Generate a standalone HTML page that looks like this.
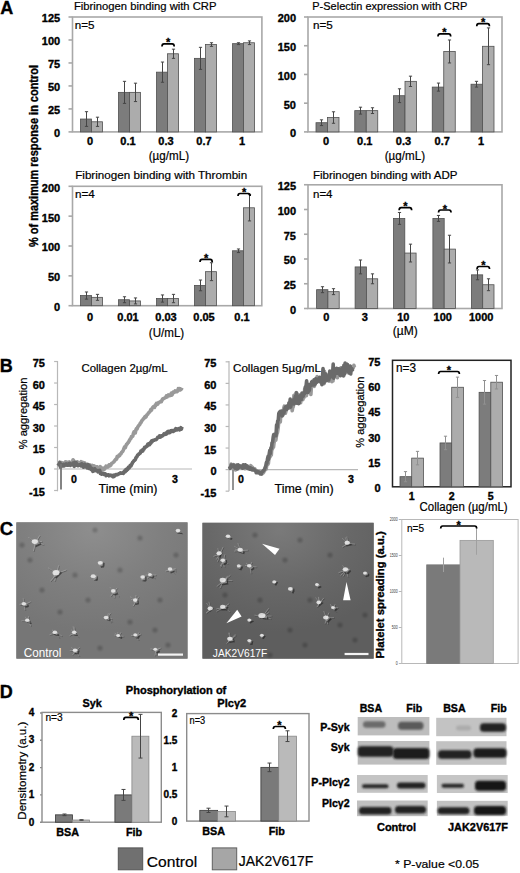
<!DOCTYPE html>
<html><head><meta charset="utf-8"><style>
html,body{margin:0;padding:0;background:#fff;width:520px;height:873px;overflow:hidden}
svg{display:block;font-family:"Liberation Sans", sans-serif}
</style></head><body>
<svg width="520" height="873" viewBox="0 0 520 873">
<rect width="520" height="873" fill="#fff"/>
<text x="0.30" y="13.89" font-size="18" font-weight="bold" fill="#000" text-anchor="start" stroke="#000" stroke-width="0.35" >A</text>
<rect x="72.50" y="17.00" width="189.40" height="114.90" fill="none" stroke="#a8a8a8" stroke-width="1.6"/>
<line x1="68.50" y1="131.90" x2="72.50" y2="131.90" stroke="#a8a8a8" stroke-width="1.6"/>
<line x1="68.50" y1="108.92" x2="72.50" y2="108.92" stroke="#a8a8a8" stroke-width="1.6"/>
<line x1="68.50" y1="85.94" x2="72.50" y2="85.94" stroke="#a8a8a8" stroke-width="1.6"/>
<line x1="68.50" y1="62.96" x2="72.50" y2="62.96" stroke="#a8a8a8" stroke-width="1.6"/>
<line x1="68.50" y1="39.98" x2="72.50" y2="39.98" stroke="#a8a8a8" stroke-width="1.6"/>
<line x1="68.50" y1="17.00" x2="72.50" y2="17.00" stroke="#a8a8a8" stroke-width="1.6"/>
<rect x="80.50" y="119.03" width="11.00" height="12.87" fill="#7c7c7c" stroke="#505050" stroke-width="0.8"/>
<rect x="91.50" y="121.79" width="11.00" height="10.11" fill="#acacac" stroke="#505050" stroke-width="0.8"/>
<rect x="118.50" y="92.37" width="11.00" height="39.53" fill="#7c7c7c" stroke="#505050" stroke-width="0.8"/>
<rect x="129.50" y="92.37" width="11.00" height="39.53" fill="#acacac" stroke="#505050" stroke-width="0.8"/>
<rect x="156.50" y="72.15" width="11.00" height="59.75" fill="#7c7c7c" stroke="#505050" stroke-width="0.8"/>
<rect x="167.50" y="53.77" width="11.00" height="78.13" fill="#acacac" stroke="#505050" stroke-width="0.8"/>
<rect x="194.50" y="58.36" width="11.00" height="73.54" fill="#7c7c7c" stroke="#505050" stroke-width="0.8"/>
<rect x="205.50" y="44.58" width="11.00" height="87.32" fill="#acacac" stroke="#505050" stroke-width="0.8"/>
<rect x="232.50" y="43.66" width="11.00" height="88.24" fill="#7c7c7c" stroke="#505050" stroke-width="0.8"/>
<rect x="243.50" y="42.74" width="11.00" height="89.16" fill="#acacac" stroke="#505050" stroke-width="0.8"/>
<line x1="86.50" y1="111.68" x2="86.50" y2="126.38" stroke="#454545" stroke-width="1"/>
<line x1="84.90" y1="111.68" x2="88.10" y2="111.68" stroke="#454545" stroke-width="1"/>
<line x1="84.90" y1="126.38" x2="88.10" y2="126.38" stroke="#454545" stroke-width="1"/>
<line x1="97.50" y1="117.19" x2="97.50" y2="126.38" stroke="#454545" stroke-width="1"/>
<line x1="95.90" y1="117.19" x2="99.10" y2="117.19" stroke="#454545" stroke-width="1"/>
<line x1="95.90" y1="126.38" x2="99.10" y2="126.38" stroke="#454545" stroke-width="1"/>
<line x1="124.50" y1="81.34" x2="124.50" y2="103.40" stroke="#454545" stroke-width="1"/>
<line x1="122.90" y1="81.34" x2="126.10" y2="81.34" stroke="#454545" stroke-width="1"/>
<line x1="122.90" y1="103.40" x2="126.10" y2="103.40" stroke="#454545" stroke-width="1"/>
<line x1="135.50" y1="83.18" x2="135.50" y2="101.57" stroke="#454545" stroke-width="1"/>
<line x1="133.90" y1="83.18" x2="137.10" y2="83.18" stroke="#454545" stroke-width="1"/>
<line x1="133.90" y1="101.57" x2="137.10" y2="101.57" stroke="#454545" stroke-width="1"/>
<line x1="162.50" y1="62.04" x2="162.50" y2="82.26" stroke="#454545" stroke-width="1"/>
<line x1="160.90" y1="62.04" x2="164.10" y2="62.04" stroke="#454545" stroke-width="1"/>
<line x1="160.90" y1="82.26" x2="164.10" y2="82.26" stroke="#454545" stroke-width="1"/>
<line x1="173.50" y1="49.17" x2="173.50" y2="58.36" stroke="#454545" stroke-width="1"/>
<line x1="171.90" y1="49.17" x2="175.10" y2="49.17" stroke="#454545" stroke-width="1"/>
<line x1="171.90" y1="58.36" x2="175.10" y2="58.36" stroke="#454545" stroke-width="1"/>
<line x1="200.50" y1="47.33" x2="200.50" y2="69.39" stroke="#454545" stroke-width="1"/>
<line x1="198.90" y1="47.33" x2="202.10" y2="47.33" stroke="#454545" stroke-width="1"/>
<line x1="198.90" y1="69.39" x2="202.10" y2="69.39" stroke="#454545" stroke-width="1"/>
<line x1="211.50" y1="42.74" x2="211.50" y2="46.41" stroke="#454545" stroke-width="1"/>
<line x1="209.90" y1="42.74" x2="213.10" y2="42.74" stroke="#454545" stroke-width="1"/>
<line x1="209.90" y1="46.41" x2="213.10" y2="46.41" stroke="#454545" stroke-width="1"/>
<line x1="238.50" y1="42.74" x2="238.50" y2="44.58" stroke="#454545" stroke-width="1"/>
<line x1="236.90" y1="42.74" x2="240.10" y2="42.74" stroke="#454545" stroke-width="1"/>
<line x1="236.90" y1="44.58" x2="240.10" y2="44.58" stroke="#454545" stroke-width="1"/>
<line x1="249.50" y1="40.90" x2="249.50" y2="44.58" stroke="#454545" stroke-width="1"/>
<line x1="247.90" y1="40.90" x2="251.10" y2="40.90" stroke="#454545" stroke-width="1"/>
<line x1="247.90" y1="44.58" x2="251.10" y2="44.58" stroke="#454545" stroke-width="1"/>
<path d="M162.00,46.40 Q162.00,43.80 164.00,43.80 L172.20,43.80 Q174.20,43.80 174.20,46.40" fill="none" stroke="#000" stroke-width="1.7"/>
<text x="168.10" y="46.36" font-size="11" font-weight="bold" fill="#000" text-anchor="middle" stroke="#000" stroke-width="0.35" >*</text>
<text x="74.00" y="10.20" font-size="10.8" font-weight="normal" fill="#000" text-anchor="start" stroke="#000" stroke-width="0.2" textLength="142.5" lengthAdjust="spacingAndGlyphs" >Fibrinogen binding with CRP</text>
<text x="74.80" y="28.54" font-size="11" font-weight="normal" fill="#000" text-anchor="start" stroke="#000" stroke-width="0.2" textLength="19.8" lengthAdjust="spacingAndGlyphs" >n=5</text>
<text x="60.20" y="137.44" font-size="11" font-weight="bold" fill="#000" text-anchor="end" stroke="#000" stroke-width="0.35" >0</text>
<text x="60.20" y="114.44" font-size="11" font-weight="bold" fill="#000" text-anchor="end" stroke="#000" stroke-width="0.35" >25</text>
<text x="60.20" y="91.44" font-size="11" font-weight="bold" fill="#000" text-anchor="end" stroke="#000" stroke-width="0.35" >50</text>
<text x="60.20" y="68.44" font-size="11" font-weight="bold" fill="#000" text-anchor="end" stroke="#000" stroke-width="0.35" >75</text>
<text x="60.20" y="45.44" font-size="11" font-weight="bold" fill="#000" text-anchor="end" stroke="#000" stroke-width="0.35" >100</text>
<text x="60.20" y="22.44" font-size="11" font-weight="bold" fill="#000" text-anchor="end" stroke="#000" stroke-width="0.35" >125</text>
<text x="90.00" y="145.24" font-size="11" font-weight="bold" fill="#000" text-anchor="middle" stroke="#000" stroke-width="0.35" >0</text>
<text x="128.00" y="145.24" font-size="11" font-weight="bold" fill="#000" text-anchor="middle" stroke="#000" stroke-width="0.35" >0.1</text>
<text x="166.00" y="145.24" font-size="11" font-weight="bold" fill="#000" text-anchor="middle" stroke="#000" stroke-width="0.35" >0.3</text>
<text x="204.00" y="145.24" font-size="11" font-weight="bold" fill="#000" text-anchor="middle" stroke="#000" stroke-width="0.35" >0.7</text>
<text x="242.00" y="145.24" font-size="11" font-weight="bold" fill="#000" text-anchor="middle" stroke="#000" stroke-width="0.35" >1</text>
<text x="168.90" y="159.50" font-size="12" font-weight="normal" fill="#000" text-anchor="middle" stroke="#000" stroke-width="0.2" textLength="40.3" lengthAdjust="spacingAndGlyphs" >(µg/mL)</text>
<rect x="308.00" y="17.00" width="194.00" height="114.90" fill="none" stroke="#a8a8a8" stroke-width="1.6"/>
<line x1="304.00" y1="131.90" x2="308.00" y2="131.90" stroke="#a8a8a8" stroke-width="1.6"/>
<line x1="304.00" y1="103.18" x2="308.00" y2="103.18" stroke="#a8a8a8" stroke-width="1.6"/>
<line x1="304.00" y1="74.45" x2="308.00" y2="74.45" stroke="#a8a8a8" stroke-width="1.6"/>
<line x1="304.00" y1="45.73" x2="308.00" y2="45.73" stroke="#a8a8a8" stroke-width="1.6"/>
<line x1="304.00" y1="17.00" x2="308.00" y2="17.00" stroke="#a8a8a8" stroke-width="1.6"/>
<rect x="316.00" y="122.71" width="11.50" height="9.19" fill="#7c7c7c" stroke="#505050" stroke-width="0.8"/>
<rect x="327.50" y="117.54" width="11.50" height="14.36" fill="#acacac" stroke="#505050" stroke-width="0.8"/>
<rect x="354.75" y="110.64" width="11.50" height="21.26" fill="#7c7c7c" stroke="#505050" stroke-width="0.8"/>
<rect x="366.25" y="110.64" width="11.50" height="21.26" fill="#acacac" stroke="#505050" stroke-width="0.8"/>
<rect x="393.50" y="95.71" width="11.50" height="36.19" fill="#7c7c7c" stroke="#505050" stroke-width="0.8"/>
<rect x="405.00" y="81.34" width="11.50" height="50.56" fill="#acacac" stroke="#505050" stroke-width="0.8"/>
<rect x="432.25" y="87.09" width="11.50" height="44.81" fill="#7c7c7c" stroke="#505050" stroke-width="0.8"/>
<rect x="443.75" y="51.47" width="11.50" height="80.43" fill="#acacac" stroke="#505050" stroke-width="0.8"/>
<rect x="471.00" y="84.22" width="11.50" height="47.68" fill="#7c7c7c" stroke="#505050" stroke-width="0.8"/>
<rect x="482.50" y="46.30" width="11.50" height="85.60" fill="#acacac" stroke="#505050" stroke-width="0.8"/>
<line x1="321.50" y1="119.84" x2="321.50" y2="125.58" stroke="#454545" stroke-width="1"/>
<line x1="319.90" y1="119.84" x2="323.10" y2="119.84" stroke="#454545" stroke-width="1"/>
<line x1="319.90" y1="125.58" x2="323.10" y2="125.58" stroke="#454545" stroke-width="1"/>
<line x1="333.50" y1="111.79" x2="333.50" y2="123.28" stroke="#454545" stroke-width="1"/>
<line x1="331.90" y1="111.79" x2="335.10" y2="111.79" stroke="#454545" stroke-width="1"/>
<line x1="331.90" y1="123.28" x2="335.10" y2="123.28" stroke="#454545" stroke-width="1"/>
<line x1="360.50" y1="107.20" x2="360.50" y2="114.09" stroke="#454545" stroke-width="1"/>
<line x1="358.90" y1="107.20" x2="362.10" y2="107.20" stroke="#454545" stroke-width="1"/>
<line x1="358.90" y1="114.09" x2="362.10" y2="114.09" stroke="#454545" stroke-width="1"/>
<line x1="372.50" y1="107.77" x2="372.50" y2="113.52" stroke="#454545" stroke-width="1"/>
<line x1="370.90" y1="107.77" x2="374.10" y2="107.77" stroke="#454545" stroke-width="1"/>
<line x1="370.90" y1="113.52" x2="374.10" y2="113.52" stroke="#454545" stroke-width="1"/>
<line x1="399.50" y1="88.81" x2="399.50" y2="102.60" stroke="#454545" stroke-width="1"/>
<line x1="397.90" y1="88.81" x2="401.10" y2="88.81" stroke="#454545" stroke-width="1"/>
<line x1="397.90" y1="102.60" x2="401.10" y2="102.60" stroke="#454545" stroke-width="1"/>
<line x1="410.50" y1="76.17" x2="410.50" y2="86.51" stroke="#454545" stroke-width="1"/>
<line x1="408.90" y1="76.17" x2="412.10" y2="76.17" stroke="#454545" stroke-width="1"/>
<line x1="408.90" y1="86.51" x2="412.10" y2="86.51" stroke="#454545" stroke-width="1"/>
<line x1="438.50" y1="83.07" x2="438.50" y2="91.11" stroke="#454545" stroke-width="1"/>
<line x1="436.90" y1="83.07" x2="440.10" y2="83.07" stroke="#454545" stroke-width="1"/>
<line x1="436.90" y1="91.11" x2="440.10" y2="91.11" stroke="#454545" stroke-width="1"/>
<line x1="449.50" y1="39.98" x2="449.50" y2="62.96" stroke="#454545" stroke-width="1"/>
<line x1="447.90" y1="39.98" x2="451.10" y2="39.98" stroke="#454545" stroke-width="1"/>
<line x1="447.90" y1="62.96" x2="451.10" y2="62.96" stroke="#454545" stroke-width="1"/>
<line x1="476.50" y1="81.34" x2="476.50" y2="87.09" stroke="#454545" stroke-width="1"/>
<line x1="474.90" y1="81.34" x2="478.10" y2="81.34" stroke="#454545" stroke-width="1"/>
<line x1="474.90" y1="87.09" x2="478.10" y2="87.09" stroke="#454545" stroke-width="1"/>
<line x1="488.50" y1="27.92" x2="488.50" y2="64.68" stroke="#454545" stroke-width="1"/>
<line x1="486.90" y1="27.92" x2="490.10" y2="27.92" stroke="#454545" stroke-width="1"/>
<line x1="486.90" y1="64.68" x2="490.10" y2="64.68" stroke="#454545" stroke-width="1"/>
<path d="M438.00,36.40 Q438.00,33.80 440.00,33.80 L448.70,33.80 Q450.70,33.80 450.70,36.40" fill="none" stroke="#000" stroke-width="1.7"/>
<text x="444.35" y="36.36" font-size="11" font-weight="bold" fill="#000" text-anchor="middle" stroke="#000" stroke-width="0.35" >*</text>
<path d="M476.75,26.30 Q476.75,23.70 478.75,23.70 L487.45,23.70 Q489.45,23.70 489.45,26.30" fill="none" stroke="#000" stroke-width="1.7"/>
<text x="483.10" y="26.26" font-size="11" font-weight="bold" fill="#000" text-anchor="middle" stroke="#000" stroke-width="0.35" >*</text>
<text x="312.30" y="10.20" font-size="10.8" font-weight="normal" fill="#000" text-anchor="start" stroke="#000" stroke-width="0.2" textLength="155" lengthAdjust="spacingAndGlyphs" >P-Selectin expression with CRP</text>
<text x="313.00" y="28.54" font-size="11" font-weight="normal" fill="#000" text-anchor="start" stroke="#000" stroke-width="0.2" textLength="19.8" lengthAdjust="spacingAndGlyphs" >n=5</text>
<text x="296.00" y="137.44" font-size="11" font-weight="bold" fill="#000" text-anchor="end" stroke="#000" stroke-width="0.35" >0</text>
<text x="296.00" y="108.69" font-size="11" font-weight="bold" fill="#000" text-anchor="end" stroke="#000" stroke-width="0.35" >50</text>
<text x="296.00" y="79.94" font-size="11" font-weight="bold" fill="#000" text-anchor="end" stroke="#000" stroke-width="0.35" >100</text>
<text x="296.00" y="51.19" font-size="11" font-weight="bold" fill="#000" text-anchor="end" stroke="#000" stroke-width="0.35" >150</text>
<text x="296.00" y="22.44" font-size="11" font-weight="bold" fill="#000" text-anchor="end" stroke="#000" stroke-width="0.35" >200</text>
<text x="326.00" y="145.24" font-size="11" font-weight="bold" fill="#000" text-anchor="middle" stroke="#000" stroke-width="0.35" >0</text>
<text x="364.75" y="145.24" font-size="11" font-weight="bold" fill="#000" text-anchor="middle" stroke="#000" stroke-width="0.35" >0.1</text>
<text x="403.50" y="145.24" font-size="11" font-weight="bold" fill="#000" text-anchor="middle" stroke="#000" stroke-width="0.35" >0.3</text>
<text x="442.25" y="145.24" font-size="11" font-weight="bold" fill="#000" text-anchor="middle" stroke="#000" stroke-width="0.35" >0.7</text>
<text x="481.00" y="145.24" font-size="11" font-weight="bold" fill="#000" text-anchor="middle" stroke="#000" stroke-width="0.35" >1</text>
<text x="404.90" y="159.50" font-size="12" font-weight="normal" fill="#000" text-anchor="middle" stroke="#000" stroke-width="0.2" textLength="40.3" lengthAdjust="spacingAndGlyphs" >(µg/mL)</text>
<rect x="72.50" y="186.30" width="189.30" height="119.40" fill="none" stroke="#a8a8a8" stroke-width="1.6"/>
<line x1="68.50" y1="305.70" x2="72.50" y2="305.70" stroke="#a8a8a8" stroke-width="1.6"/>
<line x1="68.50" y1="275.85" x2="72.50" y2="275.85" stroke="#a8a8a8" stroke-width="1.6"/>
<line x1="68.50" y1="246.00" x2="72.50" y2="246.00" stroke="#a8a8a8" stroke-width="1.6"/>
<line x1="68.50" y1="216.15" x2="72.50" y2="216.15" stroke="#a8a8a8" stroke-width="1.6"/>
<line x1="68.50" y1="186.30" x2="72.50" y2="186.30" stroke="#a8a8a8" stroke-width="1.6"/>
<rect x="80.50" y="295.55" width="11.00" height="10.15" fill="#7c7c7c" stroke="#505050" stroke-width="0.8"/>
<rect x="91.50" y="297.34" width="11.00" height="8.36" fill="#acacac" stroke="#505050" stroke-width="0.8"/>
<rect x="118.50" y="299.73" width="11.00" height="5.97" fill="#7c7c7c" stroke="#505050" stroke-width="0.8"/>
<rect x="129.50" y="300.92" width="11.00" height="4.78" fill="#acacac" stroke="#505050" stroke-width="0.8"/>
<rect x="156.50" y="298.54" width="11.00" height="7.16" fill="#7c7c7c" stroke="#505050" stroke-width="0.8"/>
<rect x="167.50" y="298.54" width="11.00" height="7.16" fill="#acacac" stroke="#505050" stroke-width="0.8"/>
<rect x="194.50" y="285.40" width="11.00" height="20.30" fill="#7c7c7c" stroke="#505050" stroke-width="0.8"/>
<rect x="205.50" y="271.67" width="11.00" height="34.03" fill="#acacac" stroke="#505050" stroke-width="0.8"/>
<rect x="232.50" y="250.78" width="11.00" height="54.92" fill="#7c7c7c" stroke="#505050" stroke-width="0.8"/>
<rect x="243.50" y="207.79" width="11.00" height="97.91" fill="#acacac" stroke="#505050" stroke-width="0.8"/>
<line x1="86.50" y1="291.97" x2="86.50" y2="299.13" stroke="#454545" stroke-width="1"/>
<line x1="84.90" y1="291.97" x2="88.10" y2="291.97" stroke="#454545" stroke-width="1"/>
<line x1="84.90" y1="299.13" x2="88.10" y2="299.13" stroke="#454545" stroke-width="1"/>
<line x1="97.50" y1="294.36" x2="97.50" y2="300.33" stroke="#454545" stroke-width="1"/>
<line x1="95.90" y1="294.36" x2="99.10" y2="294.36" stroke="#454545" stroke-width="1"/>
<line x1="95.90" y1="300.33" x2="99.10" y2="300.33" stroke="#454545" stroke-width="1"/>
<line x1="124.50" y1="296.75" x2="124.50" y2="302.71" stroke="#454545" stroke-width="1"/>
<line x1="122.90" y1="296.75" x2="126.10" y2="296.75" stroke="#454545" stroke-width="1"/>
<line x1="122.90" y1="302.71" x2="126.10" y2="302.71" stroke="#454545" stroke-width="1"/>
<line x1="135.50" y1="297.94" x2="135.50" y2="303.91" stroke="#454545" stroke-width="1"/>
<line x1="133.90" y1="297.94" x2="137.10" y2="297.94" stroke="#454545" stroke-width="1"/>
<line x1="133.90" y1="303.91" x2="137.10" y2="303.91" stroke="#454545" stroke-width="1"/>
<line x1="162.50" y1="294.95" x2="162.50" y2="302.12" stroke="#454545" stroke-width="1"/>
<line x1="160.90" y1="294.95" x2="164.10" y2="294.95" stroke="#454545" stroke-width="1"/>
<line x1="160.90" y1="302.12" x2="164.10" y2="302.12" stroke="#454545" stroke-width="1"/>
<line x1="173.50" y1="294.36" x2="173.50" y2="302.71" stroke="#454545" stroke-width="1"/>
<line x1="171.90" y1="294.36" x2="175.10" y2="294.36" stroke="#454545" stroke-width="1"/>
<line x1="171.90" y1="302.71" x2="175.10" y2="302.71" stroke="#454545" stroke-width="1"/>
<line x1="200.50" y1="280.03" x2="200.50" y2="290.77" stroke="#454545" stroke-width="1"/>
<line x1="198.90" y1="280.03" x2="202.10" y2="280.03" stroke="#454545" stroke-width="1"/>
<line x1="198.90" y1="290.77" x2="202.10" y2="290.77" stroke="#454545" stroke-width="1"/>
<line x1="211.50" y1="262.72" x2="211.50" y2="280.63" stroke="#454545" stroke-width="1"/>
<line x1="209.90" y1="262.72" x2="213.10" y2="262.72" stroke="#454545" stroke-width="1"/>
<line x1="209.90" y1="280.63" x2="213.10" y2="280.63" stroke="#454545" stroke-width="1"/>
<line x1="238.50" y1="248.98" x2="238.50" y2="252.57" stroke="#454545" stroke-width="1"/>
<line x1="236.90" y1="248.98" x2="240.10" y2="248.98" stroke="#454545" stroke-width="1"/>
<line x1="236.90" y1="252.57" x2="240.10" y2="252.57" stroke="#454545" stroke-width="1"/>
<line x1="249.50" y1="194.66" x2="249.50" y2="220.93" stroke="#454545" stroke-width="1"/>
<line x1="247.90" y1="194.66" x2="251.10" y2="194.66" stroke="#454545" stroke-width="1"/>
<line x1="247.90" y1="220.93" x2="251.10" y2="220.93" stroke="#454545" stroke-width="1"/>
<path d="M200.00,262.00 Q200.00,259.40 202.00,259.40 L210.20,259.40 Q212.20,259.40 212.20,262.00" fill="none" stroke="#000" stroke-width="1.7"/>
<text x="206.10" y="261.96" font-size="11" font-weight="bold" fill="#000" text-anchor="middle" stroke="#000" stroke-width="0.35" >*</text>
<path d="M238.00,196.10 Q238.00,193.50 240.00,193.50 L248.20,193.50 Q250.20,193.50 250.20,196.10" fill="none" stroke="#000" stroke-width="1.7"/>
<text x="244.10" y="196.06" font-size="11" font-weight="bold" fill="#000" text-anchor="middle" stroke="#000" stroke-width="0.35" >*</text>
<text x="75.20" y="178.77" font-size="10.8" font-weight="normal" fill="#000" text-anchor="start" stroke="#000" stroke-width="0.2" textLength="172" lengthAdjust="spacingAndGlyphs" >Fibrinogen binding with Thrombin</text>
<text x="75.00" y="198.24" font-size="11" font-weight="normal" fill="#000" text-anchor="start" stroke="#000" stroke-width="0.2" textLength="19.8" lengthAdjust="spacingAndGlyphs" >n=4</text>
<text x="60.20" y="311.14" font-size="11" font-weight="bold" fill="#000" text-anchor="end" stroke="#000" stroke-width="0.35" >0</text>
<text x="60.20" y="281.29" font-size="11" font-weight="bold" fill="#000" text-anchor="end" stroke="#000" stroke-width="0.35" >50</text>
<text x="60.20" y="251.44" font-size="11" font-weight="bold" fill="#000" text-anchor="end" stroke="#000" stroke-width="0.35" >100</text>
<text x="60.20" y="221.59" font-size="11" font-weight="bold" fill="#000" text-anchor="end" stroke="#000" stroke-width="0.35" >150</text>
<text x="60.20" y="191.74" font-size="11" font-weight="bold" fill="#000" text-anchor="end" stroke="#000" stroke-width="0.35" >200</text>
<text x="90.00" y="321.14" font-size="11" font-weight="bold" fill="#000" text-anchor="middle" stroke="#000" stroke-width="0.35" >0</text>
<text x="128.00" y="321.14" font-size="11" font-weight="bold" fill="#000" text-anchor="middle" stroke="#000" stroke-width="0.35" >0.01</text>
<text x="166.00" y="321.14" font-size="11" font-weight="bold" fill="#000" text-anchor="middle" stroke="#000" stroke-width="0.35" >0.03</text>
<text x="204.00" y="321.14" font-size="11" font-weight="bold" fill="#000" text-anchor="middle" stroke="#000" stroke-width="0.35" >0.05</text>
<text x="242.00" y="321.14" font-size="11" font-weight="bold" fill="#000" text-anchor="middle" stroke="#000" stroke-width="0.35" >0.1</text>
<text x="166.50" y="336.80" font-size="12" font-weight="normal" fill="#000" text-anchor="middle" stroke="#000" stroke-width="0.2" textLength="35.4" lengthAdjust="spacingAndGlyphs" >(U/mL)</text>
<rect x="308.00" y="184.80" width="194.00" height="123.70" fill="none" stroke="#a8a8a8" stroke-width="1.6"/>
<line x1="304.00" y1="308.50" x2="308.00" y2="308.50" stroke="#a8a8a8" stroke-width="1.6"/>
<line x1="304.00" y1="283.75" x2="308.00" y2="283.75" stroke="#a8a8a8" stroke-width="1.6"/>
<line x1="304.00" y1="259.00" x2="308.00" y2="259.00" stroke="#a8a8a8" stroke-width="1.6"/>
<line x1="304.00" y1="234.25" x2="308.00" y2="234.25" stroke="#a8a8a8" stroke-width="1.6"/>
<line x1="304.00" y1="209.50" x2="308.00" y2="209.50" stroke="#a8a8a8" stroke-width="1.6"/>
<line x1="304.00" y1="184.75" x2="308.00" y2="184.75" stroke="#a8a8a8" stroke-width="1.6"/>
<rect x="316.60" y="289.69" width="11.30" height="18.81" fill="#7c7c7c" stroke="#505050" stroke-width="0.8"/>
<rect x="327.90" y="291.67" width="11.30" height="16.83" fill="#acacac" stroke="#505050" stroke-width="0.8"/>
<rect x="355.10" y="266.92" width="11.30" height="41.58" fill="#7c7c7c" stroke="#505050" stroke-width="0.8"/>
<rect x="366.40" y="278.80" width="11.30" height="29.70" fill="#acacac" stroke="#505050" stroke-width="0.8"/>
<rect x="393.50" y="218.41" width="11.30" height="90.09" fill="#7c7c7c" stroke="#505050" stroke-width="0.8"/>
<rect x="404.80" y="253.06" width="11.30" height="55.44" fill="#acacac" stroke="#505050" stroke-width="0.8"/>
<rect x="432.90" y="218.41" width="11.30" height="90.09" fill="#7c7c7c" stroke="#505050" stroke-width="0.8"/>
<rect x="444.20" y="249.10" width="11.30" height="59.40" fill="#acacac" stroke="#505050" stroke-width="0.8"/>
<rect x="471.40" y="274.84" width="11.30" height="33.66" fill="#7c7c7c" stroke="#505050" stroke-width="0.8"/>
<rect x="482.70" y="284.74" width="11.30" height="23.76" fill="#acacac" stroke="#505050" stroke-width="0.8"/>
<line x1="322.50" y1="286.72" x2="322.50" y2="292.66" stroke="#454545" stroke-width="1"/>
<line x1="320.90" y1="286.72" x2="324.10" y2="286.72" stroke="#454545" stroke-width="1"/>
<line x1="320.90" y1="292.66" x2="324.10" y2="292.66" stroke="#454545" stroke-width="1"/>
<line x1="333.50" y1="288.70" x2="333.50" y2="294.64" stroke="#454545" stroke-width="1"/>
<line x1="331.90" y1="288.70" x2="335.10" y2="288.70" stroke="#454545" stroke-width="1"/>
<line x1="331.90" y1="294.64" x2="335.10" y2="294.64" stroke="#454545" stroke-width="1"/>
<line x1="360.50" y1="259.99" x2="360.50" y2="273.85" stroke="#454545" stroke-width="1"/>
<line x1="358.90" y1="259.99" x2="362.10" y2="259.99" stroke="#454545" stroke-width="1"/>
<line x1="358.90" y1="273.85" x2="362.10" y2="273.85" stroke="#454545" stroke-width="1"/>
<line x1="372.50" y1="273.85" x2="372.50" y2="283.75" stroke="#454545" stroke-width="1"/>
<line x1="370.90" y1="273.85" x2="374.10" y2="273.85" stroke="#454545" stroke-width="1"/>
<line x1="370.90" y1="283.75" x2="374.10" y2="283.75" stroke="#454545" stroke-width="1"/>
<line x1="399.50" y1="212.47" x2="399.50" y2="224.35" stroke="#454545" stroke-width="1"/>
<line x1="397.90" y1="212.47" x2="401.10" y2="212.47" stroke="#454545" stroke-width="1"/>
<line x1="397.90" y1="224.35" x2="401.10" y2="224.35" stroke="#454545" stroke-width="1"/>
<line x1="410.50" y1="244.15" x2="410.50" y2="261.97" stroke="#454545" stroke-width="1"/>
<line x1="408.90" y1="244.15" x2="412.10" y2="244.15" stroke="#454545" stroke-width="1"/>
<line x1="408.90" y1="261.97" x2="412.10" y2="261.97" stroke="#454545" stroke-width="1"/>
<line x1="438.50" y1="215.44" x2="438.50" y2="221.38" stroke="#454545" stroke-width="1"/>
<line x1="436.90" y1="215.44" x2="440.10" y2="215.44" stroke="#454545" stroke-width="1"/>
<line x1="436.90" y1="221.38" x2="440.10" y2="221.38" stroke="#454545" stroke-width="1"/>
<line x1="449.50" y1="235.24" x2="449.50" y2="262.96" stroke="#454545" stroke-width="1"/>
<line x1="447.90" y1="235.24" x2="451.10" y2="235.24" stroke="#454545" stroke-width="1"/>
<line x1="447.90" y1="262.96" x2="451.10" y2="262.96" stroke="#454545" stroke-width="1"/>
<line x1="477.50" y1="269.89" x2="477.50" y2="279.79" stroke="#454545" stroke-width="1"/>
<line x1="475.90" y1="269.89" x2="479.10" y2="269.89" stroke="#454545" stroke-width="1"/>
<line x1="475.90" y1="279.79" x2="479.10" y2="279.79" stroke="#454545" stroke-width="1"/>
<line x1="488.50" y1="278.80" x2="488.50" y2="290.68" stroke="#454545" stroke-width="1"/>
<line x1="486.90" y1="278.80" x2="490.10" y2="278.80" stroke="#454545" stroke-width="1"/>
<line x1="486.90" y1="290.68" x2="490.10" y2="290.68" stroke="#454545" stroke-width="1"/>
<path d="M399.15,210.30 Q399.15,207.70 401.15,207.70 L409.65,207.70 Q411.65,207.70 411.65,210.30" fill="none" stroke="#000" stroke-width="1.7"/>
<text x="405.40" y="210.26" font-size="11" font-weight="bold" fill="#000" text-anchor="middle" stroke="#000" stroke-width="0.35" >*</text>
<path d="M438.55,212.60 Q438.55,210.00 440.55,210.00 L449.05,210.00 Q451.05,210.00 451.05,212.60" fill="none" stroke="#000" stroke-width="1.7"/>
<text x="444.80" y="212.56" font-size="11" font-weight="bold" fill="#000" text-anchor="middle" stroke="#000" stroke-width="0.35" >*</text>
<path d="M477.05,269.10 Q477.05,266.50 479.05,266.50 L487.55,266.50 Q489.55,266.50 489.55,269.10" fill="none" stroke="#000" stroke-width="1.7"/>
<text x="483.30" y="269.06" font-size="11" font-weight="bold" fill="#000" text-anchor="middle" stroke="#000" stroke-width="0.35" >*</text>
<text x="312.90" y="178.77" font-size="10.8" font-weight="normal" fill="#000" text-anchor="start" stroke="#000" stroke-width="0.2" textLength="144.6" lengthAdjust="spacingAndGlyphs" >Fibrinogen binding with ADP</text>
<text x="313.00" y="198.34" font-size="11" font-weight="normal" fill="#000" text-anchor="start" stroke="#000" stroke-width="0.2" textLength="19.5" lengthAdjust="spacingAndGlyphs" >n=4</text>
<text x="296.00" y="313.94" font-size="11" font-weight="bold" fill="#000" text-anchor="end" stroke="#000" stroke-width="0.35" >0</text>
<text x="296.00" y="289.19" font-size="11" font-weight="bold" fill="#000" text-anchor="end" stroke="#000" stroke-width="0.35" >25</text>
<text x="296.00" y="264.44" font-size="11" font-weight="bold" fill="#000" text-anchor="end" stroke="#000" stroke-width="0.35" >50</text>
<text x="296.00" y="239.69" font-size="11" font-weight="bold" fill="#000" text-anchor="end" stroke="#000" stroke-width="0.35" >75</text>
<text x="296.00" y="214.94" font-size="11" font-weight="bold" fill="#000" text-anchor="end" stroke="#000" stroke-width="0.35" >100</text>
<text x="296.00" y="190.19" font-size="11" font-weight="bold" fill="#000" text-anchor="end" stroke="#000" stroke-width="0.35" >125</text>
<text x="326.40" y="321.44" font-size="11" font-weight="bold" fill="#000" text-anchor="middle" stroke="#000" stroke-width="0.35" >0</text>
<text x="364.90" y="321.44" font-size="11" font-weight="bold" fill="#000" text-anchor="middle" stroke="#000" stroke-width="0.35" >3</text>
<text x="403.30" y="321.44" font-size="11" font-weight="bold" fill="#000" text-anchor="middle" stroke="#000" stroke-width="0.35" >10</text>
<text x="442.70" y="321.44" font-size="11" font-weight="bold" fill="#000" text-anchor="middle" stroke="#000" stroke-width="0.35" >100</text>
<text x="481.20" y="321.44" font-size="11" font-weight="bold" fill="#000" text-anchor="middle" stroke="#000" stroke-width="0.35" >1000</text>
<text x="405.20" y="335.30" font-size="12" font-weight="normal" fill="#000" text-anchor="middle" stroke="#000" stroke-width="0.2" textLength="25" lengthAdjust="spacingAndGlyphs" >(µM)</text>
<text x="34.00" y="160.47" font-size="12.5" font-weight="bold" fill="#000" text-anchor="middle" stroke="#000" stroke-width="0.35" textLength="182" lengthAdjust="spacingAndGlyphs" transform="rotate(-90 34.00 156.00)" >% of maximum response in control</text>
<text x="-0.30" y="371.64" font-size="18" font-weight="bold" fill="#000" text-anchor="start" stroke="#000" stroke-width="0.35" >B</text>
<line x1="57.50" y1="361.00" x2="57.50" y2="491.30" stroke="#b8b8b8" stroke-width="1.2"/>
<line x1="57.50" y1="469.00" x2="192.00" y2="469.00" stroke="#b8b8b8" stroke-width="1.2"/>
<line x1="54.10" y1="361.52" x2="57.50" y2="361.52" stroke="#b8b8b8" stroke-width="1.2"/>
<text x="45.00" y="367.06" font-size="11" font-weight="bold" fill="#000" text-anchor="end" stroke="#000" stroke-width="0.35" >75</text>
<line x1="54.10" y1="383.02" x2="57.50" y2="383.02" stroke="#b8b8b8" stroke-width="1.2"/>
<text x="45.00" y="388.56" font-size="11" font-weight="bold" fill="#000" text-anchor="end" stroke="#000" stroke-width="0.35" >60</text>
<line x1="54.10" y1="404.51" x2="57.50" y2="404.51" stroke="#b8b8b8" stroke-width="1.2"/>
<text x="45.00" y="410.05" font-size="11" font-weight="bold" fill="#000" text-anchor="end" stroke="#000" stroke-width="0.35" >45</text>
<line x1="54.10" y1="426.01" x2="57.50" y2="426.01" stroke="#b8b8b8" stroke-width="1.2"/>
<text x="45.00" y="431.55" font-size="11" font-weight="bold" fill="#000" text-anchor="end" stroke="#000" stroke-width="0.35" >30</text>
<line x1="54.10" y1="447.50" x2="57.50" y2="447.50" stroke="#b8b8b8" stroke-width="1.2"/>
<text x="45.00" y="453.04" font-size="11" font-weight="bold" fill="#000" text-anchor="end" stroke="#000" stroke-width="0.35" >15</text>
<line x1="54.10" y1="469.00" x2="57.50" y2="469.00" stroke="#b8b8b8" stroke-width="1.2"/>
<text x="45.00" y="474.54" font-size="11" font-weight="bold" fill="#000" text-anchor="end" stroke="#000" stroke-width="0.35" >0</text>
<line x1="54.10" y1="490.50" x2="57.50" y2="490.50" stroke="#b8b8b8" stroke-width="1.2"/>
<text x="45.00" y="496.03" font-size="11" font-weight="bold" fill="#000" text-anchor="end" stroke="#000" stroke-width="0.35" >-15</text>
<text x="74.00" y="482.79" font-size="10.6" font-weight="bold" fill="#000" text-anchor="middle" stroke="#000" stroke-width="0.35" >0</text>
<text x="175.00" y="482.79" font-size="10.6" font-weight="bold" fill="#000" text-anchor="middle" stroke="#000" stroke-width="0.35" >3</text>
<text x="81.50" y="372.29" font-size="10.6" font-weight="normal" fill="#000" text-anchor="start" stroke="#000" stroke-width="0.2" textLength="86" lengthAdjust="spacingAndGlyphs" >Collagen 2µg/mL</text>
<text x="98.50" y="492.80" font-size="12" font-weight="normal" fill="#000" text-anchor="start" stroke="#000" stroke-width="0.2" textLength="59" lengthAdjust="spacingAndGlyphs" >Time (min)</text>
<line x1="229.00" y1="361.00" x2="229.00" y2="491.30" stroke="#b8b8b8" stroke-width="1.2"/>
<line x1="229.00" y1="469.60" x2="358.00" y2="469.60" stroke="#b8b8b8" stroke-width="1.2"/>
<line x1="225.60" y1="361.83" x2="229.00" y2="361.83" stroke="#b8b8b8" stroke-width="1.2"/>
<text x="216.50" y="367.36" font-size="11" font-weight="bold" fill="#000" text-anchor="end" stroke="#000" stroke-width="0.35" >75</text>
<line x1="225.60" y1="383.38" x2="229.00" y2="383.38" stroke="#b8b8b8" stroke-width="1.2"/>
<text x="216.50" y="388.92" font-size="11" font-weight="bold" fill="#000" text-anchor="end" stroke="#000" stroke-width="0.35" >60</text>
<line x1="225.60" y1="404.94" x2="229.00" y2="404.94" stroke="#b8b8b8" stroke-width="1.2"/>
<text x="216.50" y="410.47" font-size="11" font-weight="bold" fill="#000" text-anchor="end" stroke="#000" stroke-width="0.35" >45</text>
<line x1="225.60" y1="426.49" x2="229.00" y2="426.49" stroke="#b8b8b8" stroke-width="1.2"/>
<text x="216.50" y="432.03" font-size="11" font-weight="bold" fill="#000" text-anchor="end" stroke="#000" stroke-width="0.35" >30</text>
<line x1="225.60" y1="448.05" x2="229.00" y2="448.05" stroke="#b8b8b8" stroke-width="1.2"/>
<text x="216.50" y="453.58" font-size="11" font-weight="bold" fill="#000" text-anchor="end" stroke="#000" stroke-width="0.35" >15</text>
<line x1="225.60" y1="469.60" x2="229.00" y2="469.60" stroke="#b8b8b8" stroke-width="1.2"/>
<text x="216.50" y="475.14" font-size="11" font-weight="bold" fill="#000" text-anchor="end" stroke="#000" stroke-width="0.35" >0</text>
<line x1="225.60" y1="491.16" x2="229.00" y2="491.16" stroke="#b8b8b8" stroke-width="1.2"/>
<text x="216.50" y="496.69" font-size="11" font-weight="bold" fill="#000" text-anchor="end" stroke="#000" stroke-width="0.35" >-15</text>
<text x="241.00" y="482.79" font-size="10.6" font-weight="bold" fill="#000" text-anchor="middle" stroke="#000" stroke-width="0.35" >0</text>
<text x="351.00" y="482.79" font-size="10.6" font-weight="bold" fill="#000" text-anchor="middle" stroke="#000" stroke-width="0.35" >3</text>
<text x="233.00" y="372.29" font-size="10.6" font-weight="normal" fill="#000" text-anchor="start" stroke="#000" stroke-width="0.2" textLength="88" lengthAdjust="spacingAndGlyphs" >Collagen 5µg/mL</text>
<text x="274.60" y="492.80" font-size="12" font-weight="normal" fill="#000" text-anchor="start" stroke="#000" stroke-width="0.2" textLength="59" lengthAdjust="spacingAndGlyphs" >Time (min)</text>
<text x="23.10" y="417.44" font-size="11" font-weight="normal" fill="#000" text-anchor="middle" stroke="#000" stroke-width="0.2" textLength="71.7" lengthAdjust="spacingAndGlyphs" transform="rotate(-90 23.10 413.50)" >% aggregation</text>
<path d="M58.0,464.4 L58.6,464.8 L59.2,464.2 L59.9,462.2 L60.5,464.5 L61.1,463.9 L61.7,462.7 L62.4,463.8 L63.0,463.4 L63.6,463.2 L64.2,462.8 L64.9,463.3 L65.5,461.8 L66.1,462.5 L66.7,462.1 L67.3,463.3 L68.0,462.7 L68.6,462.3 L69.2,461.8 L69.8,462.4 L70.5,462.7 L71.1,462.3 L71.7,464.1 L72.3,463.7 L73.0,459.7 L73.6,460.6 L74.2,462.4 L74.8,462.2 L75.4,462.9 L76.1,463.0 L76.7,465.2 L77.3,461.7 L77.9,462.6 L78.6,465.4 L79.2,463.9 L79.8,464.1 L80.4,462.8 L81.1,461.7 L81.7,463.8 L82.3,463.8 L82.9,462.4 L83.5,463.1 L84.2,463.9 L84.8,463.0 L85.4,464.1 L86.0,464.5 L86.7,464.7 L87.3,464.3 L87.9,465.7 L88.5,466.3 L89.2,465.9 L89.8,464.8 L90.4,466.8 L91.0,465.6 L91.6,467.4 L92.3,465.4 L92.9,467.8 L93.5,467.0 L94.1,465.9 L94.8,467.2 L95.4,467.7 L96.0,468.1 L96.6,466.8 L97.3,466.8 L97.9,468.3 L98.5,467.7 L99.1,468.6 L99.7,469.3 L100.4,466.7 L101.0,468.9 L101.6,470.1 L102.2,468.5 L102.9,468.1 L103.5,469.6 L104.1,468.7 L104.7,469.0 L105.4,467.5 L106.0,466.2 L106.6,467.1 L107.2,466.5 L107.8,467.1 L108.5,466.4 L109.1,464.8 L109.7,464.9 L110.3,465.6 L111.0,464.9 L111.6,463.4 L112.2,463.1 L112.8,462.7 L113.5,462.1 L114.1,461.7 L114.7,460.6 L115.3,459.8 L115.9,459.0 L116.6,459.1 L117.2,456.5 L117.8,457.1 L118.4,456.5 L119.1,455.0 L119.7,455.4 L120.3,454.0 L120.9,454.0 L121.6,452.4 L122.2,451.9 L122.8,451.3 L123.4,449.9 L124.1,448.1 L124.7,446.8 L125.3,447.8 L125.9,445.7 L126.5,444.4 L127.2,444.0 L127.8,442.8 L128.4,442.5 L129.0,441.1 L129.7,440.1 L130.3,438.7 L130.9,438.5 L131.5,436.6 L132.2,436.7 L132.8,436.2 L133.4,433.4 L134.0,431.8 L134.6,432.7 L135.3,432.9 L135.9,429.8 L136.5,428.6 L137.1,428.8 L137.8,426.9 L138.4,426.1 L139.0,425.2 L139.6,424.8 L140.3,423.2 L140.9,422.7 L141.5,421.4 L142.1,420.3 L142.7,419.8 L143.4,418.7 L144.0,418.5 L144.6,417.1 L145.2,416.4 L145.9,417.1 L146.5,415.5 L147.1,414.7 L147.7,414.3 L148.4,413.0 L149.0,412.4 L149.6,412.0 L150.2,411.2 L150.8,409.6 L151.5,410.0 L152.1,408.4 L152.7,407.4 L153.3,406.8 L154.0,406.6 L154.6,407.3 L155.2,405.1 L155.8,405.3 L156.5,403.4 L157.1,404.2 L157.7,404.2 L158.3,402.9 L158.9,402.2 L159.6,402.2 L160.2,401.9 L160.8,401.3 L161.4,401.6 L162.1,400.0 L162.7,399.0 L163.3,398.8 L163.9,398.4 L164.6,398.1 L165.2,397.7 L165.8,397.4 L166.4,395.9 L167.0,397.0 L167.7,395.8 L168.3,395.0 L168.9,395.7 L169.5,395.7 L170.2,394.9 L170.8,394.3 L171.4,393.2 L172.0,395.1 L172.7,393.6 L173.3,392.1 L173.9,392.0 L174.5,392.2 L175.1,390.9 L175.8,391.6 L176.4,391.0 L177.0,391.7 L177.6,391.2 L178.3,388.7 L178.9,390.0 L179.5,388.7 L180.1,390.0 L180.8,389.2 L181.4,389.1 L182.0,387.8" fill="none" stroke="#999999" stroke-width="3.6" stroke-linejoin="round"/>
<path d="M58.0,465.7 L58.6,464.8 L59.2,464.9 L59.9,462.6 L60.5,467.2 L61.1,466.4 L61.7,464.7 L62.4,465.9 L63.0,465.3 L63.6,464.3 L64.2,465.9 L64.9,464.4 L65.5,464.4 L66.1,463.8 L66.7,465.1 L67.3,464.5 L68.0,465.2 L68.6,463.8 L69.2,464.6 L69.8,463.4 L70.5,465.3 L71.1,464.5 L71.7,464.7 L72.3,464.7 L73.0,463.1 L73.6,465.0 L74.2,466.4 L74.8,462.3 L75.4,462.2 L76.1,462.6 L76.7,465.2 L77.3,464.5 L77.9,465.7 L78.6,465.4 L79.2,464.9 L79.8,465.0 L80.4,464.6 L81.1,465.9 L81.7,463.8 L82.3,464.6 L82.9,465.4 L83.5,467.2 L84.2,464.5 L84.8,464.3 L85.4,465.0 L86.0,467.0 L86.7,465.9 L87.3,467.9 L87.9,464.6 L88.5,468.2 L89.2,468.4 L89.8,465.9 L90.4,467.9 L91.0,469.4 L91.6,468.4 L92.3,469.6 L92.9,471.4 L93.5,469.4 L94.1,469.0 L94.8,468.8 L95.4,470.6 L96.0,470.0 L96.6,470.4 L97.3,470.8 L97.9,471.8 L98.5,470.6 L99.1,470.6 L99.7,470.3 L100.4,473.5 L101.0,472.9 L101.6,474.2 L102.2,473.5 L102.9,473.4 L103.5,474.3 L104.1,474.1 L104.7,473.6 L105.4,473.9 L106.0,475.7 L106.6,475.0 L107.2,475.1 L107.8,474.9 L108.5,474.8 L109.1,475.8 L109.7,475.4 L110.3,475.1 L111.0,475.6 L111.6,475.3 L112.2,476.1 L112.8,476.6 L113.5,475.3 L114.1,476.5 L114.7,475.0 L115.3,475.4 L115.9,474.6 L116.6,474.8 L117.2,474.8 L117.8,474.3 L118.4,474.0 L119.1,473.8 L119.7,473.5 L120.3,472.8 L120.9,473.2 L121.6,473.2 L122.2,473.1 L122.8,472.6 L123.4,473.3 L124.1,471.6 L124.7,470.8 L125.3,471.8 L125.9,469.7 L126.5,470.5 L127.2,468.9 L127.8,469.3 L128.4,467.3 L129.0,468.1 L129.7,466.7 L130.3,465.3 L130.9,466.1 L131.5,464.7 L132.2,463.4 L132.8,462.1 L133.4,461.6 L134.0,460.7 L134.6,460.4 L135.3,459.6 L135.9,457.9 L136.5,457.1 L137.1,456.3 L137.8,454.9 L138.4,454.5 L139.0,454.0 L139.6,453.6 L140.3,453.1 L140.9,451.0 L141.5,451.2 L142.1,450.1 L142.7,451.0 L143.4,449.2 L144.0,449.0 L144.6,447.5 L145.2,447.0 L145.9,447.1 L146.5,446.2 L147.1,446.1 L147.7,444.4 L148.4,445.1 L149.0,443.6 L149.6,444.6 L150.2,442.9 L150.8,443.1 L151.5,441.1 L152.1,441.7 L152.7,440.5 L153.3,440.4 L154.0,440.3 L154.6,439.8 L155.2,439.8 L155.8,439.7 L156.5,439.3 L157.1,438.5 L157.7,437.3 L158.3,437.3 L158.9,437.3 L159.6,435.8 L160.2,437.2 L160.8,436.2 L161.4,435.8 L162.1,436.2 L162.7,435.7 L163.3,435.1 L163.9,434.0 L164.6,434.5 L165.2,434.3 L165.8,433.2 L166.4,434.1 L167.0,433.5 L167.7,431.7 L168.3,432.7 L168.9,431.5 L169.5,432.7 L170.2,432.2 L170.8,430.8 L171.4,430.6 L172.0,430.9 L172.7,430.5 L173.3,431.4 L173.9,430.8 L174.5,430.0 L175.1,430.3 L175.8,428.6 L176.4,429.8 L177.0,430.0 L177.6,429.1 L178.3,428.7 L178.9,429.2 L179.5,429.9 L180.1,428.7 L180.8,427.7 L181.4,429.1 L182.0,426.9" fill="none" stroke="#6a6a6a" stroke-width="3.6" stroke-linejoin="round"/>
<line x1="61.00" y1="464.00" x2="61.00" y2="489.60" stroke="#777" stroke-width="1.8"/>
<path d="M230.5,468.7 L231.1,464.1 L231.6,467.1 L232.2,466.1 L232.8,466.2 L233.3,466.5 L233.9,464.7 L234.5,466.4 L235.0,465.8 L235.6,470.0 L236.2,466.9 L236.7,466.3 L237.3,466.4 L237.9,466.0 L238.4,465.6 L239.0,466.3 L239.6,467.2 L240.1,466.4 L240.7,467.6 L241.3,466.5 L241.8,466.7 L242.4,468.2 L243.0,467.2 L243.5,466.2 L244.1,466.5 L244.7,467.2 L245.2,468.6 L245.8,466.4 L246.4,466.4 L246.9,467.8 L247.5,466.2 L248.1,466.9 L248.6,468.3 L249.2,468.2 L249.8,467.9 L250.3,468.6 L250.9,465.7 L251.4,469.3 L252.0,467.8 L252.6,467.4 L253.1,469.3 L253.7,469.8 L254.3,469.1 L254.8,468.8 L255.4,470.0 L256.0,470.3 L256.5,471.7 L257.1,471.5 L257.7,471.4 L258.2,472.3 L258.8,471.7 L259.4,471.5 L259.9,472.8 L260.5,473.1 L261.1,472.9 L261.6,472.9 L262.2,473.8 L262.8,471.5 L263.3,472.8 L263.9,471.9 L264.5,469.7 L265.0,470.1 L265.6,468.6 L266.2,469.1 L266.7,465.6 L267.3,464.6 L267.9,464.4 L268.4,463.2 L269.0,457.2 L269.6,457.5 L270.1,456.8 L270.7,453.4 L271.3,455.0 L271.8,448.4 L272.4,449.1 L273.0,444.5 L273.5,447.2 L274.1,442.5 L274.7,439.8 L275.2,435.0 L275.8,440.3 L276.4,436.2 L276.9,433.9 L277.5,432.6 L278.1,428.3 L278.6,423.3 L279.2,420.5 L279.8,418.0 L280.3,422.0 L280.9,412.2 L281.5,413.9 L282.0,413.9 L282.6,414.7 L283.2,414.8 L283.7,408.5 L284.3,406.2 L284.9,410.5 L285.4,413.3 L286.0,411.0 L286.6,408.5 L287.1,406.2 L287.7,407.6 L288.3,405.5 L288.8,408.2 L289.4,402.9 L290.0,405.2 L290.5,404.0 L291.1,405.6 L291.7,404.1 L292.2,410.8 L292.8,407.1 L293.3,406.7 L293.9,395.3 L294.5,400.1 L295.0,398.8 L295.6,401.9 L296.2,392.6 L296.7,403.0 L297.3,402.2 L297.9,394.2 L298.4,394.8 L299.0,394.9 L299.6,397.1 L300.1,398.5 L300.7,402.6 L301.3,394.9 L301.8,397.4 L302.4,395.0 L303.0,399.6 L303.5,395.8 L304.1,397.3 L304.7,388.9 L305.2,391.2 L305.8,388.7 L306.4,395.6 L306.9,392.4 L307.5,388.8 L308.1,387.8 L308.6,390.3 L309.2,386.0 L309.8,384.7 L310.3,388.7 L310.9,394.5 L311.5,385.4 L312.0,383.8 L312.6,381.4 L313.2,380.3 L313.7,385.7 L314.3,386.3 L314.9,383.1 L315.4,383.6 L316.0,382.4 L316.6,382.1 L317.1,376.5 L317.7,379.7 L318.3,381.3 L318.8,378.1 L319.4,378.9 L320.0,377.5 L320.5,378.8 L321.1,382.3 L321.7,378.0 L322.2,378.6 L322.8,381.4 L323.4,380.6 L323.9,383.7 L324.5,371.3 L325.1,380.5 L325.6,376.0 L326.2,377.7 L326.8,379.7 L327.3,380.2 L327.9,379.8 L328.5,376.7 L329.0,381.1 L329.6,374.8 L330.2,375.0 L330.7,377.7 L331.3,373.1 L331.9,381.6 L332.4,377.6 L333.0,381.1 L333.6,373.8 L334.1,372.4 L334.7,373.9 L335.2,375.6 L335.8,371.2 L336.4,374.1 L336.9,372.7 L337.5,377.7 L338.1,370.3 L338.6,375.6 L339.2,370.0 L339.8,368.9 L340.3,369.5 L340.9,367.8 L341.5,371.9 L342.0,374.6 L342.6,371.7 L343.2,373.0 L343.7,376.0 L344.3,371.5 L344.9,371.1 L345.4,369.4 L346.0,365.0 L346.6,372.4 L347.1,364.2 L347.7,371.8 L348.3,369.5 L348.8,373.0 L349.4,369.0 L350.0,366.4 L350.5,370.0 L351.1,366.9 L351.7,368.0 L352.2,368.5 L352.8,367.8 L353.4,367.5 L353.9,365.3 L354.5,367.2" fill="none" stroke="#999999" stroke-width="3.6" stroke-linejoin="round"/>
<path d="M229.0,466.0 L229.6,466.5 L230.1,468.3 L230.7,467.3 L231.3,465.0 L231.8,466.7 L232.4,466.1 L233.0,466.8 L233.5,465.1 L234.1,466.9 L234.7,466.9 L235.2,468.2 L235.8,467.0 L236.4,467.2 L236.9,465.2 L237.5,468.9 L238.1,464.8 L238.6,467.8 L239.2,466.3 L239.8,465.8 L240.3,466.0 L240.9,466.0 L241.5,467.1 L242.0,466.6 L242.6,468.2 L243.2,464.8 L243.7,466.7 L244.3,465.8 L244.9,467.4 L245.4,464.7 L246.0,466.7 L246.6,467.4 L247.1,466.0 L247.7,468.5 L248.3,468.0 L248.8,468.9 L249.4,469.1 L249.9,467.6 L250.5,467.9 L251.1,468.7 L251.6,469.6 L252.2,469.9 L252.8,468.9 L253.3,469.2 L253.9,469.4 L254.5,469.9 L255.0,470.4 L255.6,470.8 L256.2,472.7 L256.7,471.2 L257.3,471.6 L257.9,472.5 L258.4,471.8 L259.0,472.5 L259.6,473.1 L260.1,473.9 L260.7,472.9 L261.3,474.0 L261.8,472.1 L262.4,471.7 L263.0,471.4 L263.5,470.5 L264.1,470.1 L264.7,468.7 L265.2,467.3 L265.8,465.8 L266.4,462.6 L266.9,463.3 L267.5,459.0 L268.1,456.4 L268.6,459.4 L269.2,454.1 L269.8,450.4 L270.3,453.6 L270.9,447.9 L271.5,448.4 L272.0,442.9 L272.6,442.1 L273.2,437.1 L273.7,434.6 L274.3,434.5 L274.9,434.3 L275.4,434.0 L276.0,435.7 L276.6,424.8 L277.1,427.7 L277.7,421.0 L278.3,419.9 L278.8,413.5 L279.4,412.2 L280.0,413.4 L280.5,411.3 L281.1,414.0 L281.7,411.0 L282.2,416.0 L282.8,411.8 L283.4,411.0 L283.9,413.0 L284.5,410.3 L285.1,407.7 L285.6,406.9 L286.2,406.3 L286.8,409.5 L287.3,408.1 L287.9,406.4 L288.5,407.3 L289.0,402.7 L289.6,405.5 L290.2,399.1 L290.7,407.1 L291.3,402.8 L291.8,402.6 L292.4,403.4 L293.0,401.1 L293.5,399.9 L294.1,403.9 L294.7,400.1 L295.2,396.4 L295.8,400.2 L296.4,392.9 L296.9,403.1 L297.5,396.9 L298.1,397.1 L298.6,403.7 L299.2,402.9 L299.8,395.9 L300.3,397.0 L300.9,397.9 L301.5,399.3 L302.0,393.0 L302.6,393.3 L303.2,396.3 L303.7,392.7 L304.3,393.8 L304.9,392.8 L305.4,386.7 L306.0,387.0 L306.6,380.8 L307.1,387.9 L307.7,392.5 L308.3,384.2 L308.8,391.1 L309.4,389.9 L310.0,386.0 L310.5,385.6 L311.1,385.4 L311.7,381.8 L312.2,383.2 L312.8,383.4 L313.4,385.0 L313.9,385.0 L314.5,379.6 L315.1,384.3 L315.6,378.9 L316.2,380.6 L316.8,382.1 L317.3,380.6 L317.9,380.0 L318.5,381.0 L319.0,378.1 L319.6,377.5 L320.2,378.7 L320.7,382.1 L321.3,378.5 L321.9,384.6 L322.4,379.0 L323.0,368.5 L323.6,376.4 L324.1,382.8 L324.7,377.3 L325.3,375.6 L325.8,373.9 L326.4,380.7 L327.0,379.4 L327.5,378.1 L328.1,377.0 L328.7,380.0 L329.2,377.8 L329.8,371.0 L330.4,377.1 L330.9,374.9 L331.5,373.8 L332.1,376.3 L332.6,373.7 L333.2,364.0 L333.7,378.2 L334.3,376.4 L334.9,372.5 L335.4,371.5 L336.0,373.3 L336.6,368.3 L337.1,373.2 L337.7,371.3 L338.3,370.8 L338.8,368.8 L339.4,369.4 L340.0,375.0 L340.5,375.6 L341.1,372.7 L341.7,370.8 L342.2,368.0 L342.8,372.9 L343.4,375.6 L343.9,365.2 L344.5,373.9 L345.1,363.1 L345.6,368.8 L346.2,370.9 L346.8,365.2 L347.3,364.5 L347.9,369.8 L348.5,371.8 L349.0,367.4 L349.6,373.0 L350.2,366.1 L350.7,374.0 L351.3,368.6 L351.9,368.8 L352.4,369.9 L353.0,368.8" fill="none" stroke="#6a6a6a" stroke-width="3.6" stroke-linejoin="round"/>
<line x1="233.00" y1="469.50" x2="233.00" y2="490.00" stroke="#707070" stroke-width="1.5"/>
<rect x="392.50" y="360.30" width="118.50" height="126.50" fill="none" stroke="#222" stroke-width="1.5"/>
<rect x="400.00" y="476.68" width="11.70" height="10.12" fill="#7c7c7c" stroke="#505050" stroke-width="0.8"/>
<rect x="411.70" y="458.12" width="11.70" height="28.68" fill="#acacac" stroke="#505050" stroke-width="0.8"/>
<rect x="440.00" y="442.94" width="11.70" height="43.86" fill="#7c7c7c" stroke="#505050" stroke-width="0.8"/>
<rect x="451.70" y="387.27" width="11.70" height="99.53" fill="#acacac" stroke="#505050" stroke-width="0.8"/>
<rect x="479.10" y="392.33" width="11.70" height="94.47" fill="#7c7c7c" stroke="#505050" stroke-width="0.8"/>
<rect x="490.80" y="382.21" width="11.70" height="104.59" fill="#acacac" stroke="#505050" stroke-width="0.8"/>
<line x1="405.50" y1="471.62" x2="405.50" y2="481.74" stroke="#909090" stroke-width="1"/>
<line x1="403.90" y1="471.62" x2="407.10" y2="471.62" stroke="#909090" stroke-width="1"/>
<line x1="403.90" y1="481.74" x2="407.10" y2="481.74" stroke="#909090" stroke-width="1"/>
<line x1="417.50" y1="451.37" x2="417.50" y2="464.87" stroke="#909090" stroke-width="1"/>
<line x1="415.90" y1="451.37" x2="419.10" y2="451.37" stroke="#909090" stroke-width="1"/>
<line x1="415.90" y1="464.87" x2="419.10" y2="464.87" stroke="#909090" stroke-width="1"/>
<line x1="445.50" y1="436.19" x2="445.50" y2="449.69" stroke="#909090" stroke-width="1"/>
<line x1="443.90" y1="436.19" x2="447.10" y2="436.19" stroke="#909090" stroke-width="1"/>
<line x1="443.90" y1="449.69" x2="447.10" y2="449.69" stroke="#909090" stroke-width="1"/>
<line x1="457.50" y1="377.14" x2="457.50" y2="397.39" stroke="#909090" stroke-width="1"/>
<line x1="455.90" y1="377.14" x2="459.10" y2="377.14" stroke="#909090" stroke-width="1"/>
<line x1="455.90" y1="397.39" x2="459.10" y2="397.39" stroke="#909090" stroke-width="1"/>
<line x1="484.50" y1="380.52" x2="484.50" y2="404.14" stroke="#909090" stroke-width="1"/>
<line x1="482.90" y1="380.52" x2="486.10" y2="380.52" stroke="#909090" stroke-width="1"/>
<line x1="482.90" y1="404.14" x2="486.10" y2="404.14" stroke="#909090" stroke-width="1"/>
<line x1="496.50" y1="375.46" x2="496.50" y2="388.95" stroke="#909090" stroke-width="1"/>
<line x1="494.90" y1="375.46" x2="498.10" y2="375.46" stroke="#909090" stroke-width="1"/>
<line x1="494.90" y1="388.95" x2="498.10" y2="388.95" stroke="#909090" stroke-width="1"/>
<path d="M438.60,374.10 Q438.60,371.50 440.60,371.50 L457.40,371.50 Q459.40,371.50 459.40,374.10" fill="none" stroke="#000" stroke-width="1.7"/>
<text x="449.00" y="374.06" font-size="11" font-weight="bold" fill="#000" text-anchor="middle" stroke="#000" stroke-width="0.35" >*</text>
<text x="380.50" y="492.14" font-size="11" font-weight="bold" fill="#000" text-anchor="end" stroke="#000" stroke-width="0.35" >0</text>
<text x="380.50" y="466.83" font-size="11" font-weight="bold" fill="#000" text-anchor="end" stroke="#000" stroke-width="0.35" >15</text>
<text x="380.50" y="441.53" font-size="11" font-weight="bold" fill="#000" text-anchor="end" stroke="#000" stroke-width="0.35" >30</text>
<text x="380.50" y="416.22" font-size="11" font-weight="bold" fill="#000" text-anchor="end" stroke="#000" stroke-width="0.35" >45</text>
<text x="380.50" y="390.92" font-size="11" font-weight="bold" fill="#000" text-anchor="end" stroke="#000" stroke-width="0.35" >60</text>
<text x="380.50" y="365.61" font-size="11" font-weight="bold" fill="#000" text-anchor="end" stroke="#000" stroke-width="0.35" >75</text>
<text x="411.70" y="499.79" font-size="10.6" font-weight="bold" fill="#000" text-anchor="middle" stroke="#000" stroke-width="0.35" >1</text>
<text x="451.70" y="499.79" font-size="10.6" font-weight="bold" fill="#000" text-anchor="middle" stroke="#000" stroke-width="0.35" >2</text>
<text x="490.80" y="499.79" font-size="10.6" font-weight="bold" fill="#000" text-anchor="middle" stroke="#000" stroke-width="0.35" >5</text>
<text x="419.60" y="510.80" font-size="12" font-weight="normal" fill="#000" text-anchor="start" stroke="#000" stroke-width="0.2" textLength="88" lengthAdjust="spacingAndGlyphs" >Collagen (µg/mL)</text>
<text x="396.00" y="372.30" font-size="12" font-weight="normal" fill="#000" text-anchor="start" stroke="#000" stroke-width="0.2" textLength="20" lengthAdjust="spacingAndGlyphs" >n=3</text>
<text x="359.70" y="416.14" font-size="11" font-weight="normal" fill="#000" text-anchor="middle" stroke="#000" stroke-width="0.2" textLength="71" lengthAdjust="spacingAndGlyphs" transform="rotate(-90 359.70 412.20)" >% aggregation</text>
<text x="-0.20" y="534.66" font-size="18.6" font-weight="bold" fill="#000" text-anchor="start" stroke="#000" stroke-width="0.35" >C</text>
<defs><filter id="cb" x="-50%" y="-50%" width="200%" height="200%"><feGaussianBlur stdDeviation="0.55"/></filter><filter id="sp" x="-100%" y="-100%" width="300%" height="300%"><feGaussianBlur stdDeviation="1.3"/></filter></defs>
<defs><radialGradient id="g1" cx="0.45" cy="0.05" r="0.75" gradientTransform="translate(0,0)"><stop offset="0" stop-color="#8e8e8e"/><stop offset="0.55" stop-color="#7f7f7f"/><stop offset="1" stop-color="#767676"/></radialGradient></defs>
<rect x="16.4" y="522.4" width="171.1" height="136.2" fill="#7a7a7a"/>
<rect x="16.4" y="522.4" width="171.1" height="136.2" fill="url(#g1)"/>
<g filter="url(#sp)">
<circle cx="30.0" cy="560.0" r="2.6" fill="#000" opacity="0.2"/>
<circle cx="42.0" cy="590.0" r="2.6" fill="#000" opacity="0.2"/>
<circle cx="75.0" cy="575.0" r="2.6" fill="#000" opacity="0.2"/>
<circle cx="88.0" cy="600.0" r="2.6" fill="#000" opacity="0.2"/>
<circle cx="60.0" cy="612.0" r="2.6" fill="#000" opacity="0.2"/>
<circle cx="120.0" cy="570.0" r="2.6" fill="#000" opacity="0.2"/>
<circle cx="160.0" cy="600.0" r="2.6" fill="#000" opacity="0.2"/>
<circle cx="176.0" cy="555.0" r="2.6" fill="#000" opacity="0.2"/>
<circle cx="95.0" cy="530.0" r="2.6" fill="#000" opacity="0.2"/>
<circle cx="140.0" cy="538.0" r="2.6" fill="#000" opacity="0.2"/>
<circle cx="155.0" cy="630.0" r="2.6" fill="#000" opacity="0.2"/>
<circle cx="168.0" cy="645.0" r="2.6" fill="#000" opacity="0.2"/>
<circle cx="100.0" cy="648.0" r="2.6" fill="#000" opacity="0.2"/>
<circle cx="22.0" cy="545.0" r="2.6" fill="#000" opacity="0.2"/>
<circle cx="130.0" cy="622.0" r="2.6" fill="#000" opacity="0.2"/>
</g><g filter="url(#cb)">
<path d="M35.6,542.4 l4.1,-7.0 M35.6,542.4 l-7.2,-5.0 M35.6,542.4 l-2.2,8.8 M35.6,542.4 l8.1,2.2 M35.6,542.4 l6.7,-1.1 " stroke="#2a2a2a" stroke-width="1" opacity="0.35" transform="translate(0.7,0.7)"/>
<path d="M35.6,542.4 l4.1,-7.0 M35.6,542.4 l-7.2,-5.0 M35.6,542.4 l-2.2,8.8 M35.6,542.4 l8.1,2.2 M35.6,542.4 l6.7,-1.1 " stroke="#c8c8c8" stroke-width="0.9" opacity="0.4"/>
<polygon points="39.9,543.4 34.6,545.8 33.0,540.9 31.8,540.1 36.4,539.7 37.6,539.5 39.4,541.9" fill="#1a1a1a" opacity="0.55" transform="translate(1.4,1.4)"/>
<polygon points="39.9,543.4 34.6,545.8 33.0,540.9 31.8,540.1 36.4,539.7 37.6,539.5 39.4,541.9" fill="#a0a0a0" opacity="0.75"/>
<ellipse cx="34.8" cy="541.6" rx="3.1" ry="2.3" fill="#f4f4f4" opacity="0.8"/>
<path d="M56.8,573.5 l9.6,-3.6 M56.8,573.5 l-6.4,7.8 M56.8,573.5 l1.8,-8.1 M56.8,573.5 l-8.8,-5.7 M56.8,573.5 l-2.1,7.5 " stroke="#2a2a2a" stroke-width="1" opacity="0.35" transform="translate(0.7,0.7)"/>
<path d="M56.8,573.5 l9.6,-3.6 M56.8,573.5 l-6.4,7.8 M56.8,573.5 l1.8,-8.1 M56.8,573.5 l-8.8,-5.7 M56.8,573.5 l-2.1,7.5 " stroke="#c8c8c8" stroke-width="0.9" opacity="0.4"/>
<polygon points="55.7,576.7 53.5,576.9 53.7,571.8 57.9,569.5 59.9,570.6 60.5,571.9 59.8,572.5" fill="#1a1a1a" opacity="0.55" transform="translate(1.4,1.4)"/>
<polygon points="55.7,576.7 53.5,576.9 53.7,571.8 57.9,569.5 59.9,570.6 60.5,571.9 59.8,572.5" fill="#a0a0a0" opacity="0.75"/>
<ellipse cx="56.0" cy="572.7" rx="3.5" ry="2.6" fill="#f4f4f4" opacity="0.8"/>
<polygon points="102.7,565.8 99.9,566.6 98.5,564.1 98.9,562.5 99.9,561.4 102.5,561.0 103.4,562.0" fill="#1a1a1a" opacity="0.55" transform="translate(1.4,1.4)"/>
<polygon points="102.7,565.8 99.9,566.6 98.5,564.1 98.9,562.5 99.9,561.4 102.5,561.0 103.4,562.0" fill="#a0a0a0" opacity="0.75"/>
<ellipse cx="100.2" cy="562.8" rx="2.5" ry="1.9" fill="#f4f4f4" opacity="0.8"/>
<polygon points="96.6,578.7 95.4,579.6 94.5,579.4 93.3,579.4 92.7,579.6 95.8,575.1 96.4,574.6" fill="#1a1a1a" opacity="0.55" transform="translate(1.4,1.4)"/>
<polygon points="96.6,578.7 95.4,579.6 94.5,579.4 93.3,579.4 92.7,579.6 95.8,575.1 96.4,574.6" fill="#a0a0a0" opacity="0.75"/>
<ellipse cx="93.2" cy="576.2" rx="2.5" ry="1.9" fill="#f4f4f4" opacity="0.8"/>
<polygon points="145.3,579.4 144.0,580.3 141.1,579.8 142.6,576.1 143.1,575.4 143.5,575.1 145.1,575.4" fill="#1a1a1a" opacity="0.55" transform="translate(1.4,1.4)"/>
<polygon points="145.3,579.4 144.0,580.3 141.1,579.8 142.6,576.1 143.1,575.4 143.5,575.1 145.1,575.4" fill="#a0a0a0" opacity="0.75"/>
<ellipse cx="142.6" cy="577.0" rx="2.3" ry="1.8" fill="#f4f4f4" opacity="0.8"/>
<path d="M150.7,575.3 l-2.8,-3.3 M150.7,575.3 l5.6,-0.3 M150.7,575.3 l4.1,2.8 M150.7,575.3 l-5.1,-0.2 M150.7,575.3 l-3.5,2.7 " stroke="#2a2a2a" stroke-width="1" opacity="0.35" transform="translate(0.7,0.7)"/>
<path d="M150.7,575.3 l-2.8,-3.3 M150.7,575.3 l5.6,-0.3 M150.7,575.3 l4.1,2.8 M150.7,575.3 l-5.1,-0.2 M150.7,575.3 l-3.5,2.7 " stroke="#c8c8c8" stroke-width="0.9" opacity="0.4"/>
<polygon points="152.7,576.5 151.4,577.3 149.0,576.4 148.3,575.2 149.0,573.6 152.2,574.2 152.8,575.2" fill="#1a1a1a" opacity="0.55" transform="translate(1.4,1.4)"/>
<polygon points="152.7,576.5 151.4,577.3 149.0,576.4 148.3,575.2 149.0,573.6 152.2,574.2 152.8,575.2" fill="#a0a0a0" opacity="0.75"/>
<ellipse cx="149.9" cy="574.5" rx="1.9" ry="1.5" fill="#f4f4f4" opacity="0.8"/>
<path d="M170.8,569.8 l5.0,-0.6 M170.8,569.8 l5.3,1.4 M170.8,569.8 l3.7,3.6 M170.8,569.8 l-5.3,1.2 M170.8,569.8 l4.7,-1.1 " stroke="#2a2a2a" stroke-width="1" opacity="0.35" transform="translate(0.7,0.7)"/>
<path d="M170.8,569.8 l5.0,-0.6 M170.8,569.8 l5.3,1.4 M170.8,569.8 l3.7,3.6 M170.8,569.8 l-5.3,1.2 M170.8,569.8 l4.7,-1.1 " stroke="#c8c8c8" stroke-width="0.9" opacity="0.4"/>
<polygon points="173.1,570.3 172.6,571.3 172.2,571.2 169.4,572.1 168.7,570.2 174.2,569.1 173.1,569.6" fill="#1a1a1a" opacity="0.55" transform="translate(1.4,1.4)"/>
<polygon points="173.1,570.3 172.6,571.3 172.2,571.2 169.4,572.1 168.7,570.2 174.2,569.1 173.1,569.6" fill="#a0a0a0" opacity="0.75"/>
<ellipse cx="170.0" cy="569.0" rx="2.3" ry="1.8" fill="#f4f4f4" opacity="0.8"/>
<polygon points="181.9,532.8 176.8,532.4 175.6,531.8 176.4,531.5 176.4,531.4 177.5,529.9 178.6,529.5" fill="#1a1a1a" opacity="0.55" transform="translate(1.4,1.4)"/>
<polygon points="181.9,532.8 176.8,532.4 175.6,531.8 176.4,531.5 176.4,531.4 177.5,529.9 178.6,529.5" fill="#a0a0a0" opacity="0.75"/>
<ellipse cx="178.0" cy="530.6" rx="2.3" ry="1.8" fill="#f4f4f4" opacity="0.8"/>
<path d="M114.0,591.7 l3.0,-3.8 M114.0,591.7 l-3.9,-4.3 M114.0,591.7 l5.0,4.6 M114.0,591.7 l-3.4,4.6 M114.0,591.7 l0.4,6.1 " stroke="#2a2a2a" stroke-width="1" opacity="0.35" transform="translate(0.7,0.7)"/>
<path d="M114.0,591.7 l3.0,-3.8 M114.0,591.7 l-3.9,-4.3 M114.0,591.7 l5.0,4.6 M114.0,591.7 l-3.4,4.6 M114.0,591.7 l0.4,6.1 " stroke="#c8c8c8" stroke-width="0.9" opacity="0.4"/>
<polygon points="117.0,593.0 116.0,593.3 114.2,594.2 112.3,593.7 111.1,592.1 112.2,590.0 115.4,590.2" fill="#1a1a1a" opacity="0.55" transform="translate(1.4,1.4)"/>
<polygon points="117.0,593.0 116.0,593.3 114.2,594.2 112.3,593.7 111.1,592.1 112.2,590.0 115.4,590.2" fill="#a0a0a0" opacity="0.75"/>
<ellipse cx="113.2" cy="590.9" rx="2.3" ry="1.8" fill="#f4f4f4" opacity="0.8"/>
<path d="M136.0,600.9 l-4.9,-1.4 M136.0,600.9 l2.7,-4.2 M136.0,600.9 l0.0,-5.9 M136.0,600.9 l-2.9,5.2 M136.0,600.9 l-5.7,-4.1 " stroke="#2a2a2a" stroke-width="1" opacity="0.35" transform="translate(0.7,0.7)"/>
<path d="M136.0,600.9 l-4.9,-1.4 M136.0,600.9 l2.7,-4.2 M136.0,600.9 l0.0,-5.9 M136.0,600.9 l-2.9,5.2 M136.0,600.9 l-5.7,-4.1 " stroke="#c8c8c8" stroke-width="0.9" opacity="0.4"/>
<polygon points="137.6,602.8 137.0,603.2 134.3,603.5 132.6,600.1 133.7,599.5 136.0,598.3 137.3,599.2" fill="#1a1a1a" opacity="0.55" transform="translate(1.4,1.4)"/>
<polygon points="137.6,602.8 137.0,603.2 134.3,603.5 132.6,600.1 133.7,599.5 136.0,598.3 137.3,599.2" fill="#a0a0a0" opacity="0.75"/>
<ellipse cx="135.2" cy="600.1" rx="2.3" ry="1.8" fill="#f4f4f4" opacity="0.8"/>
<path d="M24.6,604.5 l6.1,-2.8 M24.6,604.5 l-4.8,-0.4 M24.6,604.5 l-1.5,-6.1 M24.6,604.5 l-4.9,-0.1 M24.6,604.5 l0.4,5.7 " stroke="#2a2a2a" stroke-width="1" opacity="0.35" transform="translate(0.7,0.7)"/>
<path d="M24.6,604.5 l6.1,-2.8 M24.6,604.5 l-4.8,-0.4 M24.6,604.5 l-1.5,-6.1 M24.6,604.5 l-4.9,-0.1 M24.6,604.5 l0.4,5.7 " stroke="#c8c8c8" stroke-width="0.9" opacity="0.4"/>
<polygon points="27.4,605.6 24.7,606.4 21.9,604.5 21.8,604.3 24.0,602.5 26.2,603.2 27.3,603.4" fill="#1a1a1a" opacity="0.55" transform="translate(1.4,1.4)"/>
<polygon points="27.4,605.6 24.7,606.4 21.9,604.5 21.8,604.3 24.0,602.5 26.2,603.2 27.3,603.4" fill="#a0a0a0" opacity="0.75"/>
<ellipse cx="23.8" cy="603.7" rx="2.3" ry="1.8" fill="#f4f4f4" opacity="0.8"/>
<path d="M28.0,621.0 l2.6,3.8 M28.0,621.0 l3.0,5.3 M28.0,621.0 l-6.5,-0.2 M28.0,621.0 l-2.7,-4.1 M28.0,621.0 l0.5,-4.8 " stroke="#2a2a2a" stroke-width="1" opacity="0.35" transform="translate(0.7,0.7)"/>
<path d="M28.0,621.0 l2.6,3.8 M28.0,621.0 l3.0,5.3 M28.0,621.0 l-6.5,-0.2 M28.0,621.0 l-2.7,-4.1 M28.0,621.0 l0.5,-4.8 " stroke="#c8c8c8" stroke-width="0.9" opacity="0.4"/>
<polygon points="30.5,622.7 29.3,622.6 29.1,622.7 25.6,620.9 26.4,618.9 28.2,619.3 28.7,619.0" fill="#1a1a1a" opacity="0.55" transform="translate(1.4,1.4)"/>
<polygon points="30.5,622.7 29.3,622.6 29.1,622.7 25.6,620.9 26.4,618.9 28.2,619.3 28.7,619.0" fill="#a0a0a0" opacity="0.75"/>
<ellipse cx="27.2" cy="620.2" rx="2.2" ry="1.6" fill="#f4f4f4" opacity="0.8"/>
<path d="M106.8,618.4 l4.3,3.9 M106.8,618.4 l3.7,-5.5 M106.8,618.4 l1.6,-5.0 M106.8,618.4 l5.4,0.6 M106.8,618.4 l5.6,3.0 " stroke="#2a2a2a" stroke-width="1" opacity="0.35" transform="translate(0.7,0.7)"/>
<path d="M106.8,618.4 l4.3,3.9 M106.8,618.4 l3.7,-5.5 M106.8,618.4 l1.6,-5.0 M106.8,618.4 l5.4,0.6 M106.8,618.4 l5.6,3.0 " stroke="#c8c8c8" stroke-width="0.9" opacity="0.4"/>
<polygon points="109.3,618.6 109.1,619.4 109.1,620.2 104.6,618.4 107.8,615.8 108.4,615.8 108.6,616.1" fill="#1a1a1a" opacity="0.55" transform="translate(1.4,1.4)"/>
<polygon points="109.3,618.6 109.1,619.4 109.1,620.2 104.6,618.4 107.8,615.8 108.4,615.8 108.6,616.1" fill="#a0a0a0" opacity="0.75"/>
<ellipse cx="106.0" cy="617.6" rx="2.3" ry="1.8" fill="#f4f4f4" opacity="0.8"/>
<path d="M55.7,633.0 l6.3,3.0 M55.7,633.0 l3.4,4.7 M55.7,633.0 l3.1,4.0 M55.7,633.0 l-3.7,-3.1 M55.7,633.0 l-6.1,1.6 " stroke="#2a2a2a" stroke-width="1" opacity="0.35" transform="translate(0.7,0.7)"/>
<path d="M55.7,633.0 l6.3,3.0 M55.7,633.0 l3.4,4.7 M55.7,633.0 l3.1,4.0 M55.7,633.0 l-3.7,-3.1 M55.7,633.0 l-6.1,1.6 " stroke="#c8c8c8" stroke-width="0.9" opacity="0.4"/>
<polygon points="57.8,633.9 57.0,634.5 57.5,635.1 53.0,633.6 52.7,633.1 53.8,631.6 58.0,633.0" fill="#1a1a1a" opacity="0.55" transform="translate(1.4,1.4)"/>
<polygon points="57.8,633.9 57.0,634.5 57.5,635.1 53.0,633.6 52.7,633.1 53.8,631.6 58.0,633.0" fill="#a0a0a0" opacity="0.75"/>
<ellipse cx="54.9" cy="632.2" rx="2.3" ry="1.8" fill="#f4f4f4" opacity="0.8"/>
<path d="M75.0,633.0 l-0.9,-6.1 M75.0,633.0 l3.6,4.4 M75.0,633.0 l-5.4,2.4 M75.0,633.0 l-1.9,-6.5 M75.0,633.0 l-3.8,-3.1 " stroke="#2a2a2a" stroke-width="1" opacity="0.35" transform="translate(0.7,0.7)"/>
<path d="M75.0,633.0 l-0.9,-6.1 M75.0,633.0 l3.6,4.4 M75.0,633.0 l-5.4,2.4 M75.0,633.0 l-1.9,-6.5 M75.0,633.0 l-3.8,-3.1 " stroke="#c8c8c8" stroke-width="0.9" opacity="0.4"/>
<polygon points="76.8,634.9 71.9,634.2 72.9,633.8 73.2,631.8 73.7,631.6 74.2,630.6 74.7,631.0" fill="#1a1a1a" opacity="0.55" transform="translate(1.4,1.4)"/>
<polygon points="76.8,634.9 71.9,634.2 72.9,633.8 73.2,631.8 73.7,631.6 74.2,630.6 74.7,631.0" fill="#a0a0a0" opacity="0.75"/>
<ellipse cx="74.2" cy="632.2" rx="2.3" ry="1.8" fill="#f4f4f4" opacity="0.8"/>
<path d="M118.9,636.3 l-1.2,-3.9 M118.9,636.3 l-4.1,-3.1 M118.9,636.3 l-4.5,-1.3 M118.9,636.3 l1.9,-3.9 M118.9,636.3 l4.7,0.0 " stroke="#2a2a2a" stroke-width="1" opacity="0.35" transform="translate(0.7,0.7)"/>
<path d="M118.9,636.3 l-1.2,-3.9 M118.9,636.3 l-4.1,-3.1 M118.9,636.3 l-4.5,-1.3 M118.9,636.3 l1.9,-3.9 M118.9,636.3 l4.7,0.0 " stroke="#c8c8c8" stroke-width="0.9" opacity="0.4"/>
<polygon points="121.1,636.3 120.4,637.5 116.7,635.8 117.4,635.3 117.5,635.1 118.2,634.4 119.7,634.8" fill="#1a1a1a" opacity="0.55" transform="translate(1.4,1.4)"/>
<polygon points="121.1,636.3 120.4,637.5 116.7,635.8 117.4,635.3 117.5,635.1 118.2,634.4 119.7,634.8" fill="#a0a0a0" opacity="0.75"/>
<ellipse cx="118.1" cy="635.5" rx="1.9" ry="1.5" fill="#f4f4f4" opacity="0.8"/>
<path d="M136.0,635.6 l2.4,4.5 M136.0,635.6 l3.2,-3.1 M136.0,635.6 l4.8,-1.3 M136.0,635.6 l4.3,-1.4 M136.0,635.6 l-4.9,-0.2 " stroke="#2a2a2a" stroke-width="1" opacity="0.35" transform="translate(0.7,0.7)"/>
<path d="M136.0,635.6 l2.4,4.5 M136.0,635.6 l3.2,-3.1 M136.0,635.6 l4.8,-1.3 M136.0,635.6 l4.3,-1.4 M136.0,635.6 l-4.9,-0.2 " stroke="#c8c8c8" stroke-width="0.9" opacity="0.4"/>
<polygon points="137.1,637.4 135.3,637.3 133.7,635.5 134.3,634.6 137.4,634.4 138.7,634.9 138.8,635.0" fill="#1a1a1a" opacity="0.55" transform="translate(1.4,1.4)"/>
<polygon points="137.1,637.4 135.3,637.3 133.7,635.5 134.3,634.6 137.4,634.4 138.7,634.9 138.8,635.0" fill="#a0a0a0" opacity="0.75"/>
<ellipse cx="135.2" cy="634.8" rx="1.9" ry="1.5" fill="#f4f4f4" opacity="0.8"/>
<path d="M75.8,651.0 l3.8,-3.8 M75.8,651.0 l3.5,5.3 M75.8,651.0 l-4.4,-3.4 M75.8,651.0 l-3.3,3.9 M75.8,651.0 l-6.0,-0.5 " stroke="#2a2a2a" stroke-width="1" opacity="0.35" transform="translate(0.7,0.7)"/>
<path d="M75.8,651.0 l3.8,-3.8 M75.8,651.0 l3.5,5.3 M75.8,651.0 l-4.4,-3.4 M75.8,651.0 l-3.3,3.9 M75.8,651.0 l-6.0,-0.5 " stroke="#c8c8c8" stroke-width="0.9" opacity="0.4"/>
<polygon points="77.3,652.9 75.0,652.9 74.0,652.9 72.5,650.8 73.8,649.7 75.1,649.3 78.2,649.0" fill="#1a1a1a" opacity="0.55" transform="translate(1.4,1.4)"/>
<polygon points="77.3,652.9 75.0,652.9 74.0,652.9 72.5,650.8 73.8,649.7 75.1,649.3 78.2,649.0" fill="#a0a0a0" opacity="0.75"/>
<ellipse cx="75.0" cy="650.2" rx="2.3" ry="1.8" fill="#f4f4f4" opacity="0.8"/>
<path d="M156.0,650.0 l3.6,-1.7 M156.0,650.0 l4.8,-2.0 M156.0,650.0 l-1.0,5.6 M156.0,650.0 l1.0,4.6 M156.0,650.0 l-5.5,-1.1 " stroke="#2a2a2a" stroke-width="1" opacity="0.35" transform="translate(0.7,0.7)"/>
<path d="M156.0,650.0 l3.6,-1.7 M156.0,650.0 l4.8,-2.0 M156.0,650.0 l-1.0,5.6 M156.0,650.0 l1.0,4.6 M156.0,650.0 l-5.5,-1.1 " stroke="#c8c8c8" stroke-width="0.9" opacity="0.4"/>
<polygon points="158.8,650.6 156.5,651.9 155.5,652.3 154.2,649.7 154.7,648.0 158.3,649.1 158.1,649.3" fill="#1a1a1a" opacity="0.55" transform="translate(1.4,1.4)"/>
<polygon points="158.8,650.6 156.5,651.9 155.5,652.3 154.2,649.7 154.7,648.0 158.3,649.1 158.1,649.3" fill="#a0a0a0" opacity="0.75"/>
<ellipse cx="155.2" cy="649.2" rx="1.9" ry="1.5" fill="#f4f4f4" opacity="0.8"/>
</g>
<text x="23.8" y="656.6" font-size="12" fill="#fff" textLength="37.6" lengthAdjust="spacingAndGlyphs">Control</text>
<rect x="158" y="653.5" width="25" height="2.2" fill="#f4f4f4"/>
<defs><radialGradient id="g2" cx="0.45" cy="0.05" r="0.75" gradientTransform="translate(0,0)"><stop offset="0" stop-color="#7a7a7a"/><stop offset="0.55" stop-color="#686868"/><stop offset="1" stop-color="#5e5e5e"/></radialGradient></defs>
<rect x="202.5" y="522.8" width="171.1" height="135.8" fill="#646464"/>
<rect x="202.5" y="522.8" width="171.1" height="135.8" fill="url(#g2)"/>
<g filter="url(#sp)">
<circle cx="255.0" cy="535.0" r="2.6" fill="#000" opacity="0.2"/>
<circle cx="300.0" cy="540.0" r="2.6" fill="#000" opacity="0.2"/>
<circle cx="285.0" cy="560.0" r="2.6" fill="#000" opacity="0.2"/>
<circle cx="330.0" cy="555.0" r="2.6" fill="#000" opacity="0.2"/>
<circle cx="310.0" cy="600.0" r="2.6" fill="#000" opacity="0.2"/>
<circle cx="340.0" cy="625.0" r="2.6" fill="#000" opacity="0.2"/>
<circle cx="290.0" cy="630.0" r="2.6" fill="#000" opacity="0.2"/>
<circle cx="260.0" cy="600.0" r="2.6" fill="#000" opacity="0.2"/>
<circle cx="225.0" cy="595.0" r="2.6" fill="#000" opacity="0.2"/>
<circle cx="355.0" cy="640.0" r="2.6" fill="#000" opacity="0.2"/>
<circle cx="305.0" cy="645.0" r="2.6" fill="#000" opacity="0.2"/>
<circle cx="365.0" cy="615.0" r="2.6" fill="#000" opacity="0.2"/>
<circle cx="270.0" cy="655.0" r="2.6" fill="#000" opacity="0.2"/>
</g><g filter="url(#cb)">
<polygon points="231.4,537.4 229.8,538.7 226.2,536.6 226.3,536.3 226.6,536.1 227.5,535.5 227.1,534.5" fill="#1a1a1a" opacity="0.55" transform="translate(1.4,1.4)"/>
<polygon points="231.4,537.4 229.8,538.7 226.2,536.6 226.3,536.3 226.6,536.1 227.5,535.5 227.1,534.5" fill="#a0a0a0" opacity="0.75"/>
<ellipse cx="228.0" cy="536.2" rx="2.3" ry="1.8" fill="#f4f4f4" opacity="0.8"/>
<path d="M241.0,550.6 l6.9,-0.4 M241.0,550.6 l-5.7,-1.3 M241.0,550.6 l-6.9,0.5 M241.0,550.6 l-6.6,-4.3 M241.0,550.6 l-3.2,-7.4 " stroke="#2a2a2a" stroke-width="1" opacity="0.35" transform="translate(0.7,0.7)"/>
<path d="M241.0,550.6 l6.9,-0.4 M241.0,550.6 l-5.7,-1.3 M241.0,550.6 l-6.9,0.5 M241.0,550.6 l-6.6,-4.3 M241.0,550.6 l-3.2,-7.4 " stroke="#c8c8c8" stroke-width="0.9" opacity="0.4"/>
<polygon points="242.9,552.9 237.1,550.8 237.0,550.2 237.8,550.0 238.2,549.0 239.9,548.5 243.5,550.5" fill="#1a1a1a" opacity="0.55" transform="translate(1.4,1.4)"/>
<polygon points="242.9,552.9 237.1,550.8 237.0,550.2 237.8,550.0 238.2,549.0 239.9,548.5 243.5,550.5" fill="#a0a0a0" opacity="0.75"/>
<ellipse cx="240.2" cy="549.8" rx="2.7" ry="2.0" fill="#f4f4f4" opacity="0.8"/>
<path d="M220.0,554.0 l-3.8,5.5 M220.0,554.0 l-6.6,2.4 M220.0,554.0 l3.1,-7.1 M220.0,554.0 l-2.3,-5.6 M220.0,554.0 l-2.5,7.6 " stroke="#2a2a2a" stroke-width="1" opacity="0.35" transform="translate(0.7,0.7)"/>
<path d="M220.0,554.0 l-3.8,5.5 M220.0,554.0 l-6.6,2.4 M220.0,554.0 l3.1,-7.1 M220.0,554.0 l-2.3,-5.6 M220.0,554.0 l-2.5,7.6 " stroke="#c8c8c8" stroke-width="0.9" opacity="0.4"/>
<polygon points="218.8,557.1 218.4,556.0 216.3,555.2 217.2,554.9 216.6,552.8 218.7,551.4 221.2,551.6" fill="#1a1a1a" opacity="0.55" transform="translate(1.4,1.4)"/>
<polygon points="218.8,557.1 218.4,556.0 216.3,555.2 217.2,554.9 216.6,552.8 218.7,551.4 221.2,551.6" fill="#a0a0a0" opacity="0.75"/>
<ellipse cx="219.2" cy="553.2" rx="2.7" ry="2.0" fill="#f4f4f4" opacity="0.8"/>
<path d="M223.5,561.0 l1.3,-6.6 M223.5,561.0 l-3.4,5.1 M223.5,561.0 l4.9,3.0 M223.5,561.0 l0.8,6.3 M223.5,561.0 l-2.8,6.2 " stroke="#2a2a2a" stroke-width="1" opacity="0.35" transform="translate(0.7,0.7)"/>
<path d="M223.5,561.0 l1.3,-6.6 M223.5,561.0 l-3.4,5.1 M223.5,561.0 l4.9,3.0 M223.5,561.0 l0.8,6.3 M223.5,561.0 l-2.8,6.2 " stroke="#c8c8c8" stroke-width="0.9" opacity="0.4"/>
<polygon points="225.8,562.2 223.9,563.6 222.1,563.6 222.2,562.7 221.8,559.7 224.1,558.4 225.6,558.9" fill="#1a1a1a" opacity="0.55" transform="translate(1.4,1.4)"/>
<polygon points="225.8,562.2 223.9,563.6 222.1,563.6 222.2,562.7 221.8,559.7 224.1,558.4 225.6,558.9" fill="#a0a0a0" opacity="0.75"/>
<ellipse cx="222.7" cy="560.2" rx="2.3" ry="1.8" fill="#f4f4f4" opacity="0.8"/>
<path d="M250.0,566.6 l-5.0,-1.2 M250.0,566.6 l1.8,-4.5 M250.0,566.6 l-3.9,-3.6 M250.0,566.6 l1.1,6.9 M250.0,566.6 l6.5,0.4 " stroke="#2a2a2a" stroke-width="1" opacity="0.35" transform="translate(0.7,0.7)"/>
<path d="M250.0,566.6 l-5.0,-1.2 M250.0,566.6 l1.8,-4.5 M250.0,566.6 l-3.9,-3.6 M250.0,566.6 l1.1,6.9 M250.0,566.6 l6.5,0.4 " stroke="#c8c8c8" stroke-width="0.9" opacity="0.4"/>
<polygon points="252.5,566.7 253.2,567.7 250.9,569.2 250.4,568.9 247.9,566.2 248.3,565.3 250.9,564.7" fill="#1a1a1a" opacity="0.55" transform="translate(1.4,1.4)"/>
<polygon points="252.5,566.7 253.2,567.7 250.9,569.2 250.4,568.9 247.9,566.2 248.3,565.3 250.9,564.7" fill="#a0a0a0" opacity="0.75"/>
<ellipse cx="249.2" cy="565.8" rx="2.3" ry="1.8" fill="#f4f4f4" opacity="0.8"/>
<polygon points="240.7,567.8 240.3,568.3 239.9,569.0 237.1,567.8 237.1,567.1 240.5,564.9 241.8,565.3" fill="#1a1a1a" opacity="0.55" transform="translate(1.4,1.4)"/>
<polygon points="240.7,567.8 240.3,568.3 239.9,569.0 237.1,567.8 237.1,567.1 240.5,564.9 241.8,565.3" fill="#a0a0a0" opacity="0.75"/>
<ellipse cx="238.7" cy="565.8" rx="1.9" ry="1.5" fill="#f4f4f4" opacity="0.8"/>
<path d="M223.5,580.8 l4.3,-5.0 M223.5,580.8 l-6.8,5.7 M223.5,580.8 l8.9,-0.2 M223.5,580.8 l-3.6,7.4 M223.5,580.8 l6.9,-5.6 " stroke="#2a2a2a" stroke-width="1" opacity="0.35" transform="translate(0.7,0.7)"/>
<path d="M223.5,580.8 l4.3,-5.0 M223.5,580.8 l-6.8,5.7 M223.5,580.8 l8.9,-0.2 M223.5,580.8 l-3.6,7.4 M223.5,580.8 l6.9,-5.6 " stroke="#c8c8c8" stroke-width="0.9" opacity="0.4"/>
<polygon points="227.0,583.1 221.8,583.8 220.1,583.2 226.0,577.8 226.5,577.8 227.0,578.4 226.5,580.8" fill="#1a1a1a" opacity="0.55" transform="translate(1.4,1.4)"/>
<polygon points="227.0,583.1 221.8,583.8 220.1,583.2 226.0,577.8 226.5,577.8 227.0,578.4 226.5,580.8" fill="#a0a0a0" opacity="0.75"/>
<ellipse cx="222.7" cy="580.0" rx="3.1" ry="2.3" fill="#f4f4f4" opacity="0.8"/>
<polygon points="274.7,584.4 272.5,582.9 272.1,582.7 272.9,581.7 275.9,580.7 276.3,580.8 276.8,581.2" fill="#1a1a1a" opacity="0.55" transform="translate(1.4,1.4)"/>
<polygon points="274.7,584.4 272.5,582.9 272.1,582.7 272.9,581.7 275.9,580.7 276.3,580.8 276.8,581.2" fill="#a0a0a0" opacity="0.75"/>
<ellipse cx="274.2" cy="581.8" rx="1.9" ry="1.5" fill="#f4f4f4" opacity="0.8"/>
<polygon points="291.9,592.5 288.6,589.1 290.0,587.9 291.7,587.3 293.0,587.4 292.9,588.9 293.4,589.1" fill="#1a1a1a" opacity="0.55" transform="translate(1.4,1.4)"/>
<polygon points="291.9,592.5 288.6,589.1 290.0,587.9 291.7,587.3 293.0,587.4 292.9,588.9 293.4,589.1" fill="#a0a0a0" opacity="0.75"/>
<ellipse cx="290.2" cy="588.9" rx="2.3" ry="1.8" fill="#f4f4f4" opacity="0.8"/>
<polygon points="320.3,585.6 318.9,586.6 317.2,587.2 315.3,584.2 316.6,583.2 317.6,583.9 317.8,583.6" fill="#1a1a1a" opacity="0.55" transform="translate(1.4,1.4)"/>
<polygon points="320.3,585.6 318.9,586.6 317.2,587.2 315.3,584.2 316.6,583.2 317.6,583.9 317.8,583.6" fill="#a0a0a0" opacity="0.75"/>
<ellipse cx="316.9" cy="584.6" rx="1.9" ry="1.5" fill="#f4f4f4" opacity="0.8"/>
<path d="M348.0,543.5 l-1.2,-6.9 M348.0,543.5 l-2.7,-6.0 M348.0,543.5 l-5.8,3.4 M348.0,543.5 l-5.7,-5.1 M348.0,543.5 l7.1,0.7 " stroke="#2a2a2a" stroke-width="1" opacity="0.35" transform="translate(0.7,0.7)"/>
<path d="M348.0,543.5 l-1.2,-6.9 M348.0,543.5 l-2.7,-6.0 M348.0,543.5 l-5.8,3.4 M348.0,543.5 l-5.7,-5.1 M348.0,543.5 l7.1,0.7 " stroke="#c8c8c8" stroke-width="0.9" opacity="0.4"/>
<polygon points="351.2,543.8 344.8,545.2 345.0,545.0 345.3,542.5 345.0,541.2 346.4,540.4 347.3,540.3" fill="#1a1a1a" opacity="0.55" transform="translate(1.4,1.4)"/>
<polygon points="351.2,543.8 344.8,545.2 345.0,545.0 345.3,542.5 345.0,541.2 346.4,540.4 347.3,540.3" fill="#a0a0a0" opacity="0.75"/>
<ellipse cx="347.2" cy="542.7" rx="2.7" ry="2.0" fill="#f4f4f4" opacity="0.8"/>
<path d="M346.2,570.0 l-7.7,2.7 M346.2,570.0 l-5.7,5.6 M346.2,570.0 l1.8,6.8 M346.2,570.0 l-3.6,-4.5 M346.2,570.0 l-3.2,6.4 " stroke="#2a2a2a" stroke-width="1" opacity="0.35" transform="translate(0.7,0.7)"/>
<path d="M346.2,570.0 l-7.7,2.7 M346.2,570.0 l-5.7,5.6 M346.2,570.0 l1.8,6.8 M346.2,570.0 l-3.6,-4.5 M346.2,570.0 l-3.2,6.4 " stroke="#c8c8c8" stroke-width="0.9" opacity="0.4"/>
<polygon points="347.0,572.8 345.0,572.0 343.7,572.1 342.8,571.0 344.5,568.2 349.2,568.8 349.8,569.9" fill="#1a1a1a" opacity="0.55" transform="translate(1.4,1.4)"/>
<polygon points="347.0,572.8 345.0,572.0 343.7,572.1 342.8,571.0 344.5,568.2 349.2,568.8 349.8,569.9" fill="#a0a0a0" opacity="0.75"/>
<ellipse cx="345.4" cy="569.2" rx="2.7" ry="2.0" fill="#f4f4f4" opacity="0.8"/>
<polygon points="367.4,575.3 366.7,575.2 365.1,575.8 363.1,574.0 363.2,572.6 366.4,571.7 368.2,573.6" fill="#1a1a1a" opacity="0.55" transform="translate(1.4,1.4)"/>
<polygon points="367.4,575.3 366.7,575.2 365.1,575.8 363.1,574.0 363.2,572.6 366.4,571.7 368.2,573.6" fill="#a0a0a0" opacity="0.75"/>
<ellipse cx="365.0" cy="572.9" rx="1.9" ry="1.5" fill="#f4f4f4" opacity="0.8"/>
<path d="M211.0,609.3 l-4.5,-6.3 M211.0,609.3 l-2.1,-7.5 M211.0,609.3 l-4.7,3.2 M211.0,609.3 l-4.9,3.7 M211.0,609.3 l-4.4,3.4 " stroke="#2a2a2a" stroke-width="1" opacity="0.35" transform="translate(0.7,0.7)"/>
<path d="M211.0,609.3 l-4.5,-6.3 M211.0,609.3 l-2.1,-7.5 M211.0,609.3 l-4.7,3.2 M211.0,609.3 l-4.9,3.7 M211.0,609.3 l-4.4,3.4 " stroke="#c8c8c8" stroke-width="0.9" opacity="0.4"/>
<polygon points="208.9,610.6 208.7,610.8 208.9,610.5 208.6,606.5 210.0,606.2 212.5,607.1 212.8,607.1" fill="#1a1a1a" opacity="0.55" transform="translate(1.4,1.4)"/>
<polygon points="208.9,610.6 208.7,610.8 208.9,610.5 208.6,606.5 210.0,606.2 212.5,607.1 212.8,607.1" fill="#a0a0a0" opacity="0.75"/>
<ellipse cx="210.2" cy="608.5" rx="2.7" ry="2.0" fill="#f4f4f4" opacity="0.8"/>
<path d="M223.5,607.5 l6.4,4.3 M223.5,607.5 l-7.1,3.8 M223.5,607.5 l5.3,1.7 M223.5,607.5 l5.5,-3.8 M223.5,607.5 l-7.2,1.4 " stroke="#2a2a2a" stroke-width="1" opacity="0.35" transform="translate(0.7,0.7)"/>
<path d="M223.5,607.5 l6.4,4.3 M223.5,607.5 l-7.1,3.8 M223.5,607.5 l5.3,1.7 M223.5,607.5 l5.5,-3.8 M223.5,607.5 l-7.2,1.4 " stroke="#c8c8c8" stroke-width="0.9" opacity="0.4"/>
<polygon points="225.9,608.1 226.2,609.0 220.3,609.0 219.8,608.1 224.8,605.4 226.8,605.6 227.0,606.8" fill="#1a1a1a" opacity="0.55" transform="translate(1.4,1.4)"/>
<polygon points="225.9,608.1 226.2,609.0 220.3,609.0 219.8,608.1 224.8,605.4 226.8,605.6 227.0,606.8" fill="#a0a0a0" opacity="0.75"/>
<ellipse cx="222.7" cy="606.7" rx="2.7" ry="2.0" fill="#f4f4f4" opacity="0.8"/>
<path d="M262.6,616.4 l6.2,-3.9 M262.6,616.4 l8.3,2.5 M262.6,616.4 l9.0,-0.3 M262.6,616.4 l6.1,-8.1 M262.6,616.4 l-8.1,-1.2 " stroke="#2a2a2a" stroke-width="1" opacity="0.35" transform="translate(0.7,0.7)"/>
<path d="M262.6,616.4 l6.2,-3.9 M262.6,616.4 l8.3,2.5 M262.6,616.4 l9.0,-0.3 M262.6,616.4 l6.1,-8.1 M262.6,616.4 l-8.1,-1.2 " stroke="#c8c8c8" stroke-width="0.9" opacity="0.4"/>
<polygon points="266.8,617.5 267.0,618.4 258.9,617.3 258.8,615.9 264.8,613.9 265.7,614.8 267.1,616.3" fill="#1a1a1a" opacity="0.55" transform="translate(1.4,1.4)"/>
<polygon points="266.8,617.5 267.0,618.4 258.9,617.3 258.8,615.9 264.8,613.9 265.7,614.8 267.1,616.3" fill="#a0a0a0" opacity="0.75"/>
<ellipse cx="261.8" cy="615.6" rx="3.5" ry="2.6" fill="#f4f4f4" opacity="0.8"/>
<polygon points="248.6,622.3 248.3,620.2 248.5,619.8 249.0,619.1 249.7,618.8 252.2,619.7 252.4,620.3" fill="#1a1a1a" opacity="0.55" transform="translate(1.4,1.4)"/>
<polygon points="248.6,622.3 248.3,620.2 248.5,619.8 249.0,619.1 249.7,618.8 252.2,619.7 252.4,620.3" fill="#a0a0a0" opacity="0.75"/>
<ellipse cx="249.2" cy="619.9" rx="1.9" ry="1.5" fill="#f4f4f4" opacity="0.8"/>
<path d="M319.5,603.2 l4.3,-5.3 M319.5,603.2 l-1.0,-6.2 M319.5,603.2 l-0.8,-6.3 M319.5,603.2 l-3.8,-5.7 M319.5,603.2 l-2.6,3.9 " stroke="#2a2a2a" stroke-width="1" opacity="0.35" transform="translate(0.7,0.7)"/>
<path d="M319.5,603.2 l4.3,-5.3 M319.5,603.2 l-1.0,-6.2 M319.5,603.2 l-0.8,-6.3 M319.5,603.2 l-3.8,-5.7 M319.5,603.2 l-2.6,3.9 " stroke="#c8c8c8" stroke-width="0.9" opacity="0.4"/>
<polygon points="317.8,605.4 317.6,600.8 318.5,601.6 319.0,600.3 319.1,600.6 321.6,601.0 322.1,601.7" fill="#1a1a1a" opacity="0.55" transform="translate(1.4,1.4)"/>
<polygon points="317.8,605.4 317.6,600.8 318.5,601.6 319.0,600.3 319.1,600.6 321.6,601.0 322.1,601.7" fill="#a0a0a0" opacity="0.75"/>
<ellipse cx="318.7" cy="602.4" rx="2.3" ry="1.8" fill="#f4f4f4" opacity="0.8"/>
<path d="M333.7,608.2 l4.4,-0.5 M333.7,608.2 l-3.5,-2.5 M333.7,608.2 l1.3,-3.9 M333.7,608.2 l-3.5,-4.0 M333.7,608.2 l2.5,4.0 " stroke="#2a2a2a" stroke-width="1" opacity="0.35" transform="translate(0.7,0.7)"/>
<path d="M333.7,608.2 l4.4,-0.5 M333.7,608.2 l-3.5,-2.5 M333.7,608.2 l1.3,-3.9 M333.7,608.2 l-3.5,-4.0 M333.7,608.2 l2.5,4.0 " stroke="#c8c8c8" stroke-width="0.9" opacity="0.4"/>
<polygon points="334.7,609.6 334.4,610.3 333.6,610.1 331.5,606.9 332.2,606.7 334.4,606.4 336.5,607.9" fill="#1a1a1a" opacity="0.55" transform="translate(1.4,1.4)"/>
<polygon points="334.7,609.6 334.4,610.3 333.6,610.1 331.5,606.9 332.2,606.7 334.4,606.4 336.5,607.9" fill="#a0a0a0" opacity="0.75"/>
<ellipse cx="332.9" cy="607.4" rx="1.9" ry="1.5" fill="#f4f4f4" opacity="0.8"/>
<path d="M326.6,618.2 l-2.9,-7.1 M326.6,618.2 l-1.5,5.4 M326.6,618.2 l2.3,-5.5 M326.6,618.2 l7.4,-0.6 M326.6,618.2 l1.0,6.1 " stroke="#2a2a2a" stroke-width="1" opacity="0.35" transform="translate(0.7,0.7)"/>
<path d="M326.6,618.2 l-2.9,-7.1 M326.6,618.2 l-1.5,5.4 M326.6,618.2 l2.3,-5.5 M326.6,618.2 l7.4,-0.6 M326.6,618.2 l1.0,6.1 " stroke="#c8c8c8" stroke-width="0.9" opacity="0.4"/>
<polygon points="329.2,618.8 327.2,621.3 325.8,620.6 325.4,615.6 327.6,616.2 327.9,615.7 330.4,617.9" fill="#1a1a1a" opacity="0.55" transform="translate(1.4,1.4)"/>
<polygon points="329.2,618.8 327.2,621.3 325.8,620.6 325.4,615.6 327.6,616.2 327.9,615.7 330.4,617.9" fill="#a0a0a0" opacity="0.75"/>
<ellipse cx="325.8" cy="617.4" rx="2.7" ry="2.0" fill="#f4f4f4" opacity="0.8"/>
<polygon points="251.2,643.5 248.7,643.3 248.3,640.4 250.1,639.5 251.6,640.2 252.2,639.9 251.8,640.4" fill="#1a1a1a" opacity="0.55" transform="translate(1.4,1.4)"/>
<polygon points="251.2,643.5 248.7,643.3 248.3,640.4 250.1,639.5 251.6,640.2 252.2,639.9 251.8,640.4" fill="#a0a0a0" opacity="0.75"/>
<ellipse cx="249.2" cy="640.5" rx="1.9" ry="1.5" fill="#f4f4f4" opacity="0.8"/>
<polygon points="262.4,637.7 262.0,637.5 261.6,637.9 260.6,636.5 261.2,633.9 264.1,634.8 264.2,635.0" fill="#1a1a1a" opacity="0.55" transform="translate(1.4,1.4)"/>
<polygon points="262.4,637.7 262.0,637.5 261.6,637.9 260.6,636.5 261.2,633.9 264.1,634.8 264.2,635.0" fill="#a0a0a0" opacity="0.75"/>
<ellipse cx="261.8" cy="635.2" rx="1.9" ry="1.5" fill="#f4f4f4" opacity="0.8"/>
<path d="M230.6,639.5 l-4.1,4.0 M230.6,639.5 l-2.0,-6.7 M230.6,639.5 l-1.2,-6.8 M230.6,639.5 l4.7,-5.2 M230.6,639.5 l5.4,-4.1 " stroke="#2a2a2a" stroke-width="1" opacity="0.35" transform="translate(0.7,0.7)"/>
<path d="M230.6,639.5 l-4.1,4.0 M230.6,639.5 l-2.0,-6.7 M230.6,639.5 l-1.2,-6.8 M230.6,639.5 l4.7,-5.2 M230.6,639.5 l5.4,-4.1 " stroke="#c8c8c8" stroke-width="0.9" opacity="0.4"/>
<polygon points="233.5,640.9 228.2,641.5 227.6,638.6 229.7,637.0 230.1,637.3 232.6,637.6 232.7,638.1" fill="#1a1a1a" opacity="0.55" transform="translate(1.4,1.4)"/>
<polygon points="233.5,640.9 228.2,641.5 227.6,638.6 229.7,637.0 230.1,637.3 232.6,637.6 232.7,638.1" fill="#a0a0a0" opacity="0.75"/>
<ellipse cx="229.8" cy="638.7" rx="2.7" ry="2.0" fill="#f4f4f4" opacity="0.8"/>
</g>
<polygon points="262.0,543.7 279.5,548.8 275.0,555.0" fill="#fff"/>
<polygon points="346.5,582.0 343.1,600.2 350.6,600.2" fill="#fff"/>
<polygon points="226.4,623.2 237.2,609.7 241.6,616.4" fill="#fff"/>
<text x="212.8" y="656.6" font-size="11.5" fill="#fff" textLength="54.5" lengthAdjust="spacingAndGlyphs">JAK2V617F</text>
<rect x="344.6" y="652.9" width="23.899999999999977" height="2.2" fill="#f4f4f4"/>
<rect x="401.80" y="519.50" width="116.30" height="144.00" fill="none" stroke="#b8b8b8" stroke-width="1"/>
<line x1="398.80" y1="663.50" x2="401.80" y2="663.50" stroke="#b8b8b8" stroke-width="1"/>
<line x1="398.80" y1="627.50" x2="401.80" y2="627.50" stroke="#b8b8b8" stroke-width="1"/>
<line x1="398.80" y1="591.50" x2="401.80" y2="591.50" stroke="#b8b8b8" stroke-width="1"/>
<line x1="398.80" y1="555.50" x2="401.80" y2="555.50" stroke="#b8b8b8" stroke-width="1"/>
<line x1="398.80" y1="519.50" x2="401.80" y2="519.50" stroke="#b8b8b8" stroke-width="1"/>
<rect x="426.70" y="564.86" width="33.30" height="98.64" fill="#7a7a7a" stroke="#777" stroke-width="0.8"/>
<rect x="460.00" y="540.38" width="33.30" height="123.12" fill="#b9b9b9" stroke="#999" stroke-width="0.8"/>
<line x1="443.50" y1="557.66" x2="443.50" y2="572.06" stroke="#a0a0a0" stroke-width="1"/>
<line x1="443.50" y1="557.66" x2="443.50" y2="557.66" stroke="#a0a0a0" stroke-width="1"/>
<line x1="443.50" y1="572.06" x2="443.50" y2="572.06" stroke="#a0a0a0" stroke-width="1"/>
<line x1="476.50" y1="525.98" x2="476.50" y2="554.78" stroke="#a0a0a0" stroke-width="1"/>
<line x1="476.50" y1="525.98" x2="476.50" y2="525.98" stroke="#a0a0a0" stroke-width="1"/>
<line x1="476.50" y1="554.78" x2="476.50" y2="554.78" stroke="#a0a0a0" stroke-width="1"/>
<path d="M440.70,528.60 Q440.70,526.00 442.70,526.00 L474.70,526.00 Q476.70,526.00 476.70,528.60" fill="none" stroke="#000" stroke-width="1.7"/>
<text x="458.70" y="528.56" font-size="11" font-weight="bold" fill="#000" text-anchor="middle" stroke="#000" stroke-width="0.35" >*</text>
<text x="397.60" y="665.47" font-size="5.5" font-weight="normal" fill="#333" text-anchor="end" textLength="1.95" lengthAdjust="spacingAndGlyphs" >0</text>
<text x="397.60" y="629.47" font-size="5.5" font-weight="normal" fill="#333" text-anchor="end" textLength="5.85" lengthAdjust="spacingAndGlyphs" >500</text>
<text x="397.60" y="593.47" font-size="5.5" font-weight="normal" fill="#333" text-anchor="end" textLength="7.8" lengthAdjust="spacingAndGlyphs" >1000</text>
<text x="397.60" y="557.47" font-size="5.5" font-weight="normal" fill="#333" text-anchor="end" textLength="7.8" lengthAdjust="spacingAndGlyphs" >1500</text>
<text x="397.60" y="521.47" font-size="5.5" font-weight="normal" fill="#333" text-anchor="end" textLength="7.8" lengthAdjust="spacingAndGlyphs" >2000</text>
<text x="407.00" y="531.94" font-size="11" font-weight="normal" fill="#000" text-anchor="start" stroke="#000" stroke-width="0.2" textLength="17" lengthAdjust="spacingAndGlyphs" >n=5</text>
<text x="379.80" y="598.77" font-size="10.8" font-weight="bold" fill="#000" text-anchor="middle" stroke="#000" stroke-width="0.35" textLength="127.2" lengthAdjust="spacingAndGlyphs" transform="rotate(-90 379.80 594.90)" >Platelet spreading (a.u.)</text>
<text x="-0.30" y="698.14" font-size="18" font-weight="bold" fill="#000" text-anchor="start" stroke="#000" stroke-width="0.35" >D</text>
<text x="125.80" y="694.06" font-size="10.5" font-weight="bold" fill="#000" text-anchor="start" stroke="#000" stroke-width="0.35" textLength="100.5" lengthAdjust="spacingAndGlyphs" >Phosphorylation of</text>
<text x="217.30" y="707.11" font-size="10.5" font-weight="bold" fill="#000" text-anchor="start" stroke="#000" stroke-width="0.35" textLength="28.9" lengthAdjust="spacingAndGlyphs" >Plcγ2</text>
<text x="82.50" y="706.83" font-size="10.7" font-weight="bold" fill="#000" text-anchor="start" stroke="#000" stroke-width="0.35" textLength="19.3" lengthAdjust="spacingAndGlyphs" >Syk</text>
<rect x="42.00" y="712.40" width="119.30" height="109.80" fill="none" stroke="#8c8c8c" stroke-width="1.4"/>
<line x1="40.00" y1="822.20" x2="42.00" y2="822.20" stroke="#8c8c8c" stroke-width="1.4"/>
<line x1="40.00" y1="794.90" x2="42.00" y2="794.90" stroke="#8c8c8c" stroke-width="1.4"/>
<line x1="40.00" y1="767.60" x2="42.00" y2="767.60" stroke="#8c8c8c" stroke-width="1.4"/>
<line x1="40.00" y1="740.30" x2="42.00" y2="740.30" stroke="#8c8c8c" stroke-width="1.4"/>
<line x1="40.00" y1="713.00" x2="42.00" y2="713.00" stroke="#8c8c8c" stroke-width="1.4"/>
<rect x="55.50" y="814.83" width="17.00" height="7.37" fill="#7a7a7a" stroke="#383838" stroke-width="0.8"/>
<rect x="72.50" y="820.02" width="17.00" height="2.18" fill="#bababa" stroke="#888888" stroke-width="0.8"/>
<rect x="114.90" y="794.90" width="17.00" height="27.30" fill="#7a7a7a" stroke="#383838" stroke-width="0.8"/>
<rect x="131.90" y="736.21" width="17.00" height="86.00" fill="#bababa" stroke="#888888" stroke-width="0.8"/>
<line x1="64.50" y1="814.01" x2="64.50" y2="815.65" stroke="#454545" stroke-width="1"/>
<line x1="62.50" y1="814.01" x2="66.50" y2="814.01" stroke="#454545" stroke-width="1"/>
<line x1="62.50" y1="815.65" x2="66.50" y2="815.65" stroke="#454545" stroke-width="1"/>
<line x1="81.50" y1="819.74" x2="81.50" y2="820.29" stroke="#454545" stroke-width="1"/>
<line x1="79.50" y1="819.74" x2="83.50" y2="819.74" stroke="#454545" stroke-width="1"/>
<line x1="79.50" y1="820.29" x2="83.50" y2="820.29" stroke="#454545" stroke-width="1"/>
<line x1="123.50" y1="789.44" x2="123.50" y2="800.36" stroke="#454545" stroke-width="1"/>
<line x1="121.50" y1="789.44" x2="125.50" y2="789.44" stroke="#454545" stroke-width="1"/>
<line x1="121.50" y1="800.36" x2="125.50" y2="800.36" stroke="#454545" stroke-width="1"/>
<line x1="140.50" y1="714.37" x2="140.50" y2="758.05" stroke="#454545" stroke-width="1"/>
<line x1="138.50" y1="714.37" x2="142.50" y2="714.37" stroke="#454545" stroke-width="1"/>
<line x1="138.50" y1="758.05" x2="142.50" y2="758.05" stroke="#454545" stroke-width="1"/>
<path d="M123.80,719.90 Q123.80,717.30 125.80,717.30 L136.30,717.30 Q138.30,717.30 138.30,719.90" fill="none" stroke="#000" stroke-width="1.7"/>
<text x="131.05" y="719.86" font-size="11" font-weight="bold" fill="#000" text-anchor="middle" stroke="#000" stroke-width="0.35" >*</text>
<text x="34.40" y="825.58" font-size="10" font-weight="bold" fill="#000" text-anchor="end" stroke="#000" stroke-width="0.35" >0</text>
<text x="34.40" y="798.08" font-size="10" font-weight="bold" fill="#000" text-anchor="end" stroke="#000" stroke-width="0.35" >1</text>
<text x="34.40" y="770.58" font-size="10" font-weight="bold" fill="#000" text-anchor="end" stroke="#000" stroke-width="0.35" >2</text>
<text x="34.40" y="743.08" font-size="10" font-weight="bold" fill="#000" text-anchor="end" stroke="#000" stroke-width="0.35" >3</text>
<text x="34.40" y="715.58" font-size="10" font-weight="bold" fill="#000" text-anchor="end" stroke="#000" stroke-width="0.35" >4</text>
<text x="45.40" y="721.48" font-size="10" font-weight="normal" fill="#000" text-anchor="start" stroke="#000" stroke-width="0.2" textLength="17.3" lengthAdjust="spacingAndGlyphs" >n=3</text>
<text x="67.60" y="836.47" font-size="10.8" font-weight="bold" fill="#000" text-anchor="middle" stroke="#000" stroke-width="0.35" >BSA</text>
<text x="134.00" y="836.47" font-size="10.8" font-weight="bold" fill="#000" text-anchor="middle" stroke="#000" stroke-width="0.35" >Fib</text>
<text x="21.60" y="774.64" font-size="11" font-weight="normal" fill="#000" text-anchor="middle" stroke="#000" stroke-width="0.2" textLength="98" lengthAdjust="spacingAndGlyphs" transform="rotate(-90 21.60 770.70)" >Densitometry (a.u.)</text>
<rect x="186.70" y="713.60" width="122.30" height="107.50" fill="none" stroke="#8c8c8c" stroke-width="1.4"/>
<rect x="199.80" y="810.35" width="17.80" height="10.75" fill="#7a7a7a" stroke="#383838" stroke-width="0.8"/>
<rect x="217.60" y="811.43" width="17.80" height="9.67" fill="#bababa" stroke="#888888" stroke-width="0.8"/>
<rect x="260.90" y="767.35" width="17.80" height="53.75" fill="#7a7a7a" stroke="#383838" stroke-width="0.8"/>
<rect x="278.70" y="736.18" width="17.80" height="84.92" fill="#bababa" stroke="#888888" stroke-width="0.8"/>
<line x1="208.50" y1="808.20" x2="208.50" y2="812.50" stroke="#454545" stroke-width="1"/>
<line x1="206.50" y1="808.20" x2="210.50" y2="808.20" stroke="#454545" stroke-width="1"/>
<line x1="206.50" y1="812.50" x2="210.50" y2="812.50" stroke="#454545" stroke-width="1"/>
<line x1="226.50" y1="806.05" x2="226.50" y2="816.80" stroke="#454545" stroke-width="1"/>
<line x1="224.50" y1="806.05" x2="228.50" y2="806.05" stroke="#454545" stroke-width="1"/>
<line x1="224.50" y1="816.80" x2="228.50" y2="816.80" stroke="#454545" stroke-width="1"/>
<line x1="269.50" y1="763.05" x2="269.50" y2="771.65" stroke="#454545" stroke-width="1"/>
<line x1="267.50" y1="763.05" x2="271.50" y2="763.05" stroke="#454545" stroke-width="1"/>
<line x1="267.50" y1="771.65" x2="271.50" y2="771.65" stroke="#454545" stroke-width="1"/>
<line x1="287.50" y1="730.80" x2="287.50" y2="741.55" stroke="#454545" stroke-width="1"/>
<line x1="285.50" y1="730.80" x2="289.50" y2="730.80" stroke="#454545" stroke-width="1"/>
<line x1="285.50" y1="741.55" x2="289.50" y2="741.55" stroke="#454545" stroke-width="1"/>
<path d="M273.30,729.10 Q273.30,726.50 275.30,726.50 L283.40,726.50 Q285.40,726.50 285.40,729.10" fill="none" stroke="#000" stroke-width="1.7"/>
<text x="279.35" y="729.06" font-size="11" font-weight="bold" fill="#000" text-anchor="middle" stroke="#000" stroke-width="0.35" >*</text>
<text x="177.40" y="824.58" font-size="10" font-weight="bold" fill="#000" text-anchor="end" stroke="#000" stroke-width="0.35" >0</text>
<text x="177.40" y="797.58" font-size="10" font-weight="bold" fill="#000" text-anchor="end" stroke="#000" stroke-width="0.35" >0.5</text>
<text x="177.40" y="770.58" font-size="10" font-weight="bold" fill="#000" text-anchor="end" stroke="#000" stroke-width="0.35" >1</text>
<text x="177.40" y="743.58" font-size="10" font-weight="bold" fill="#000" text-anchor="end" stroke="#000" stroke-width="0.35" >1.5</text>
<text x="177.40" y="716.58" font-size="10" font-weight="bold" fill="#000" text-anchor="end" stroke="#000" stroke-width="0.35" >2</text>
<text x="189.60" y="723.78" font-size="10" font-weight="normal" fill="#000" text-anchor="start" stroke="#000" stroke-width="0.2" textLength="15.6" lengthAdjust="spacingAndGlyphs" >n=3</text>
<text x="213.60" y="835.27" font-size="10.8" font-weight="bold" fill="#000" text-anchor="middle" stroke="#000" stroke-width="0.35" >BSA</text>
<text x="276.80" y="835.27" font-size="10.8" font-weight="bold" fill="#000" text-anchor="middle" stroke="#000" stroke-width="0.35" >Fib</text>
<defs><filter id="bl" x="-30%" y="-80%" width="160%" height="260%"><feGaussianBlur stdDeviation="1.1"/></filter><filter id="bl2" x="-10%" y="-10%" width="120%" height="120%"><feGaussianBlur stdDeviation="0.5"/></filter></defs>
<rect x="357.7" y="717" width="71.7" height="18.4" fill="#bdbdbd" filter="url(#bl2)"/>
<rect x="363" y="721.2" width="22.5" height="6.5" rx="3.2" fill="#6a6a6a" filter="url(#bl)"/>
<rect x="398" y="721.8" width="25.5" height="8" rx="3.5" fill="#5a5a5a" filter="url(#bl)"/>
<rect x="436.2" y="717.8" width="70.3" height="18.4" fill="#c3c3c3" filter="url(#bl2)"/>
<rect x="456" y="725.5" width="15.0" height="5" rx="2.5" fill="#acacac" filter="url(#bl)"/>
<rect x="480" y="723.2" width="26.0" height="8.5" rx="3.5" fill="#222" filter="url(#bl)"/>
<rect x="357.7" y="741" width="71.7" height="23.6" fill="#bebebe" filter="url(#bl2)"/>
<rect x="357.7" y="746.2" width="35.8" height="10.5" rx="3.5" fill="#222" filter="url(#bl)"/>
<rect x="393" y="748.0" width="36.4" height="11" rx="3.5" fill="#1a1a1a" filter="url(#bl)"/>
<rect x="436.2" y="741.2" width="70.3" height="23.6" fill="#c2c2c2" filter="url(#bl2)"/>
<rect x="438" y="750.2" width="33.5" height="8.5" rx="3.5" fill="#202020" filter="url(#bl)"/>
<rect x="473.5" y="748.2" width="33.0" height="9.5" rx="3.5" fill="#1c1c1c" filter="url(#bl)"/>
<rect x="357" y="775" width="70.7" height="17.8" fill="#c4c4c4" filter="url(#bl2)"/>
<rect x="362" y="784.2" width="26.5" height="4" rx="2.0" fill="#282828" filter="url(#bl)"/>
<rect x="397" y="782.4" width="28.5" height="6" rx="3.0" fill="#202020" filter="url(#bl)"/>
<rect x="436.9" y="775" width="70.8" height="18.0" fill="#c5c5c5" filter="url(#bl2)"/>
<rect x="441.5" y="783.8" width="22.5" height="4" rx="2.0" fill="#282828" filter="url(#bl)"/>
<rect x="475" y="780.8" width="31.0" height="10" rx="3.5" fill="#141414" filter="url(#bl)"/>
<rect x="357" y="800.5" width="70.7" height="15.7" fill="#c0c0c0" filter="url(#bl2)"/>
<rect x="359" y="807.0" width="32.5" height="7.5" rx="3.5" fill="#202020" filter="url(#bl)"/>
<rect x="395" y="806.0" width="31.0" height="7.5" rx="3.5" fill="#202020" filter="url(#bl)"/>
<rect x="436.9" y="800.8" width="70.8" height="15.0" fill="#c2c2c2" filter="url(#bl2)"/>
<rect x="437.5" y="807.3" width="32.0" height="7" rx="3.5" fill="#202020" filter="url(#bl)"/>
<rect x="474" y="806.1" width="32.0" height="9" rx="3.5" fill="#161616" filter="url(#bl)"/>
<text x="370.90" y="712.39" font-size="10.6" font-weight="bold" fill="#000" text-anchor="middle" stroke="#000" stroke-width="0.35" >BSA</text>
<text x="414.30" y="712.39" font-size="10.6" font-weight="bold" fill="#000" text-anchor="middle" stroke="#000" stroke-width="0.35" >Fib</text>
<text x="454.40" y="712.39" font-size="10.6" font-weight="bold" fill="#000" text-anchor="middle" stroke="#000" stroke-width="0.35" >BSA</text>
<text x="498.80" y="712.39" font-size="10.6" font-weight="bold" fill="#000" text-anchor="middle" stroke="#000" stroke-width="0.35" >Fib</text>
<text x="349.60" y="731.39" font-size="10.6" font-weight="bold" fill="#000" text-anchor="end" stroke="#000" stroke-width="0.35" >P-Syk</text>
<text x="349.60" y="750.79" font-size="10.6" font-weight="bold" fill="#000" text-anchor="end" stroke="#000" stroke-width="0.35" >Syk</text>
<text x="349.60" y="786.49" font-size="10.6" font-weight="bold" fill="#000" text-anchor="end" stroke="#000" stroke-width="0.35" >P-Plcγ2</text>
<text x="349.60" y="806.99" font-size="10.6" font-weight="bold" fill="#000" text-anchor="end" stroke="#000" stroke-width="0.35" >Plcγ2</text>
<text x="377.00" y="830.79" font-size="10.6" font-weight="bold" fill="#000" text-anchor="start" stroke="#000" stroke-width="0.35" textLength="39" lengthAdjust="spacingAndGlyphs" >Control</text>
<text x="448.00" y="830.79" font-size="10.6" font-weight="bold" fill="#000" text-anchor="start" stroke="#000" stroke-width="0.35" textLength="60" lengthAdjust="spacingAndGlyphs" >JAK2V617F</text>
<rect x="118.30" y="847.90" width="24.40" height="21.90" fill="#707070" stroke="#555" stroke-width="1"/>
<text x="146.80" y="866.52" font-size="15" font-weight="normal" fill="#000" text-anchor="start" stroke="#000" stroke-width="0.2" textLength="50.3" lengthAdjust="spacingAndGlyphs" >Control</text>
<rect x="212.30" y="847.90" width="24.40" height="21.90" fill="#a6a6a6" stroke="#606060" stroke-width="1"/>
<text x="238.80" y="866.41" font-size="14.7" font-weight="normal" fill="#000" text-anchor="start" stroke="#000" stroke-width="0.2" textLength="74.5" lengthAdjust="spacingAndGlyphs" >JAK2V617F</text>
<text x="395.00" y="867.82" font-size="11.8" font-weight="normal" fill="#000" text-anchor="start" stroke="#000" stroke-width="0.2" textLength="84.1" lengthAdjust="spacingAndGlyphs" >* P-value &lt;0.05</text>
</svg></body></html>
